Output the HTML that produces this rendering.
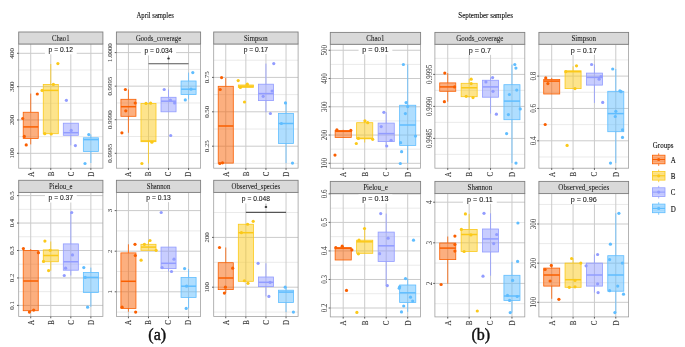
<!DOCTYPE html>
<html><head><meta charset="utf-8"><style>
html,body{margin:0;padding:0;background:#fff;}
body{width:685px;height:347px;overflow:hidden;font-family:"Liberation Serif",serif;}
svg{display:block;will-change:transform;filter:blur(0.3px);}
</style></head><body>
<svg width="685" height="347" viewBox="0 0 685 347">
<rect width="685" height="347" fill="#fff"/>
<rect x="18.7" y="44" width="84.2" height="124.2" fill="#fff"/>
<line x1="18.7" x2="102.9" y1="136.63" y2="136.63" stroke="#E8E8E8" stroke-width="0.9"/>
<line x1="18.7" x2="102.9" y1="103.3" y2="103.3" stroke="#E8E8E8" stroke-width="0.9"/>
<line x1="18.7" x2="102.9" y1="69.97" y2="69.97" stroke="#E8E8E8" stroke-width="0.9"/>
<line x1="18.7" x2="102.9" y1="153.3" y2="153.3" stroke="#CBCBCB" stroke-width="1"/>
<line x1="18.7" x2="102.9" y1="119.97" y2="119.97" stroke="#CBCBCB" stroke-width="1"/>
<line x1="18.7" x2="102.9" y1="86.63" y2="86.63" stroke="#CBCBCB" stroke-width="1"/>
<line x1="18.7" x2="102.9" y1="53.3" y2="53.3" stroke="#CBCBCB" stroke-width="1"/>
<line x1="30.73" x2="30.73" y1="44" y2="168.2" stroke="#CBCBCB" stroke-width="1"/>
<line x1="50.78" x2="50.78" y1="44" y2="168.2" stroke="#CBCBCB" stroke-width="1"/>
<line x1="70.82" x2="70.82" y1="44" y2="168.2" stroke="#CBCBCB" stroke-width="1"/>
<line x1="90.87" x2="90.87" y1="44" y2="168.2" stroke="#CBCBCB" stroke-width="1"/>
<line x1="30.73" x2="30.73" y1="93.6" y2="112.25" stroke="#FA5F00" stroke-width="0.8"/>
<line x1="30.73" x2="30.73" y1="138.5" y2="144.4" stroke="#FA5F00" stroke-width="0.8"/>
<rect x="23.21" y="112.25" width="15.04" height="26.25" fill="#FA5F00" fill-opacity="0.5" stroke="#FA5F00" stroke-width="0.8"/>
<line x1="23.21" x2="38.25" y1="126.9" y2="126.9" stroke="#FA5F00" stroke-width="1.5"/>
<circle cx="37.3" cy="94" r="1.6" fill="#FA5F00"/>
<circle cx="22.7" cy="118.5" r="1.6" fill="#FA5F00"/>
<circle cx="24.3" cy="136.4" r="1.6" fill="#FA5F00"/>
<circle cx="26.25" cy="144.9" r="1.6" fill="#FA5F00"/>
<line x1="50.78" x2="50.78" y1="64" y2="84.4" stroke="#FBC919" stroke-width="0.8"/>
<rect x="43.26" y="84.4" width="15.04" height="49.3" fill="#FBC919" fill-opacity="0.5" stroke="#FBC919" stroke-width="0.8"/>
<line x1="43.26" x2="58.29" y1="90.4" y2="90.4" stroke="#FBC919" stroke-width="1.5"/>
<circle cx="57.9" cy="63.6" r="1.6" fill="#FBC919"/>
<circle cx="53.4" cy="84.4" r="1.6" fill="#FBC919"/>
<circle cx="42.1" cy="90.4" r="1.6" fill="#FBC919"/>
<circle cx="44.8" cy="133.7" r="1.6" fill="#FBC919"/>
<circle cx="51.25" cy="134" r="1.6" fill="#FBC919"/>
<line x1="70.82" x2="70.82" y1="135.3" y2="145.3" stroke="#929CFF" stroke-width="0.8"/>
<rect x="63.31" y="123.2" width="15.04" height="12.1" fill="#929CFF" fill-opacity="0.5" stroke="#929CFF" stroke-width="0.8"/>
<line x1="63.31" x2="78.34" y1="132.7" y2="132.7" stroke="#929CFF" stroke-width="1.5"/>
<circle cx="66.4" cy="100.3" r="1.6" fill="#929CFF"/>
<circle cx="71.2" cy="130.4" r="1.6" fill="#929CFF"/>
<circle cx="75.4" cy="145.6" r="1.6" fill="#929CFF"/>
<line x1="90.87" x2="90.87" y1="134.6" y2="137.8" stroke="#5FBDFF" stroke-width="0.8"/>
<line x1="90.87" x2="90.87" y1="151.5" y2="163" stroke="#5FBDFF" stroke-width="0.8"/>
<rect x="83.35" y="137.8" width="15.04" height="13.7" fill="#5FBDFF" fill-opacity="0.5" stroke="#5FBDFF" stroke-width="0.8"/>
<line x1="83.35" x2="98.39" y1="139.6" y2="139.6" stroke="#5FBDFF" stroke-width="1.5"/>
<circle cx="88.75" cy="134.6" r="1.6" fill="#5FBDFF"/>
<circle cx="85" cy="163.5" r="1.6" fill="#5FBDFF"/>
<rect x="44.9" y="44.5" width="31.8" height="9.8" fill="#fff"/>
<text x="60.8" y="52.1" font-family='"Liberation Sans", sans-serif' font-size="6.7" text-anchor="middle" fill="#1a1a1a" stroke="#1a1a1a" stroke-width="0.1">p = 0.12</text>
<rect x="18.7" y="44" width="84.2" height="124.2" fill="none" stroke="#A0A0A0" stroke-width="0.8"/>
<rect x="18.7" y="32" width="84.2" height="12" fill="#D9D9D9" stroke="#808080" stroke-width="0.9"/>
<text transform="translate(60.8,40.6) scale(1,1.2)" font-family='"Liberation Serif", serif' font-size="6.75" text-anchor="middle" fill="#1a1a1a" stroke="#1a1a1a" stroke-width="0.06">Chao1</text>
<line x1="17" x2="18.7" y1="153.3" y2="153.3" stroke="#333" stroke-width="0.8"/>
<text transform="translate(14.3,153.3) rotate(-90) scale(1,1.0)" font-family='"Liberation Serif", serif' font-size="6.8" text-anchor="middle" fill="#404040" stroke="#404040" stroke-width="0.04">100</text>
<line x1="17" x2="18.7" y1="119.97" y2="119.97" stroke="#333" stroke-width="0.8"/>
<text transform="translate(14.3,119.97) rotate(-90) scale(1,1.0)" font-family='"Liberation Serif", serif' font-size="6.8" text-anchor="middle" fill="#404040" stroke="#404040" stroke-width="0.04">200</text>
<line x1="17" x2="18.7" y1="86.63" y2="86.63" stroke="#333" stroke-width="0.8"/>
<text transform="translate(14.3,86.63) rotate(-90) scale(1,1.0)" font-family='"Liberation Serif", serif' font-size="6.8" text-anchor="middle" fill="#404040" stroke="#404040" stroke-width="0.04">300</text>
<line x1="17" x2="18.7" y1="53.3" y2="53.3" stroke="#333" stroke-width="0.8"/>
<text transform="translate(14.3,53.3) rotate(-90) scale(1,1.0)" font-family='"Liberation Serif", serif' font-size="6.8" text-anchor="middle" fill="#404040" stroke="#404040" stroke-width="0.04">400</text>
<line x1="30.73" x2="30.73" y1="168.2" y2="169.9" stroke="#333" stroke-width="0.8"/>
<text transform="translate(33.63,171.6) rotate(-90) scale(1,1.12)" font-family='"Liberation Serif", serif' font-size="7.0" text-anchor="end" fill="#333" stroke="#333" stroke-width="0.12">A</text>
<line x1="50.78" x2="50.78" y1="168.2" y2="169.9" stroke="#333" stroke-width="0.8"/>
<text transform="translate(53.68,171.6) rotate(-90) scale(1,1.12)" font-family='"Liberation Serif", serif' font-size="7.0" text-anchor="end" fill="#333" stroke="#333" stroke-width="0.12">B</text>
<line x1="70.82" x2="70.82" y1="168.2" y2="169.9" stroke="#333" stroke-width="0.8"/>
<text transform="translate(73.72,171.6) rotate(-90) scale(1,1.12)" font-family='"Liberation Serif", serif' font-size="7.0" text-anchor="end" fill="#333" stroke="#333" stroke-width="0.12">C</text>
<line x1="90.87" x2="90.87" y1="168.2" y2="169.9" stroke="#333" stroke-width="0.8"/>
<text transform="translate(93.77,171.6) rotate(-90) scale(1,1.12)" font-family='"Liberation Serif", serif' font-size="7.0" text-anchor="end" fill="#333" stroke="#333" stroke-width="0.12">D</text>
<rect x="116.4" y="44" width="84.2" height="124.2" fill="#fff"/>
<line x1="116.4" x2="200.6" y1="136.52" y2="136.52" stroke="#E8E8E8" stroke-width="0.9"/>
<line x1="116.4" x2="200.6" y1="102.95" y2="102.95" stroke="#E8E8E8" stroke-width="0.9"/>
<line x1="116.4" x2="200.6" y1="69.38" y2="69.38" stroke="#E8E8E8" stroke-width="0.9"/>
<line x1="116.4" x2="200.6" y1="153.3" y2="153.3" stroke="#CBCBCB" stroke-width="1"/>
<line x1="116.4" x2="200.6" y1="119.73" y2="119.73" stroke="#CBCBCB" stroke-width="1"/>
<line x1="116.4" x2="200.6" y1="86.17" y2="86.17" stroke="#CBCBCB" stroke-width="1"/>
<line x1="116.4" x2="200.6" y1="52.6" y2="52.6" stroke="#CBCBCB" stroke-width="1"/>
<line x1="128.43" x2="128.43" y1="44" y2="168.2" stroke="#CBCBCB" stroke-width="1"/>
<line x1="148.48" x2="148.48" y1="44" y2="168.2" stroke="#CBCBCB" stroke-width="1"/>
<line x1="168.52" x2="168.52" y1="44" y2="168.2" stroke="#CBCBCB" stroke-width="1"/>
<line x1="188.57" x2="188.57" y1="44" y2="168.2" stroke="#CBCBCB" stroke-width="1"/>
<line x1="128.43" x2="128.43" y1="89.5" y2="99.3" stroke="#FA5F00" stroke-width="0.8"/>
<line x1="128.43" x2="128.43" y1="116.3" y2="132.8" stroke="#FA5F00" stroke-width="0.8"/>
<rect x="120.91" y="99.3" width="15.04" height="17" fill="#FA5F00" fill-opacity="0.5" stroke="#FA5F00" stroke-width="0.8"/>
<line x1="120.91" x2="135.95" y1="106.7" y2="106.7" stroke="#FA5F00" stroke-width="1.5"/>
<circle cx="125.4" cy="89.5" r="1.6" fill="#FA5F00"/>
<circle cx="135.2" cy="103" r="1.6" fill="#FA5F00"/>
<circle cx="125.8" cy="110.8" r="1.6" fill="#FA5F00"/>
<circle cx="121.9" cy="132.8" r="1.6" fill="#FA5F00"/>
<line x1="148.48" x2="148.48" y1="141.7" y2="163.5" stroke="#FBC919" stroke-width="0.8"/>
<rect x="140.96" y="103.5" width="15.04" height="38.2" fill="#FBC919" fill-opacity="0.5" stroke="#FBC919" stroke-width="0.8"/>
<line x1="140.96" x2="155.99" y1="141" y2="141" stroke="#FBC919" stroke-width="1.5"/>
<circle cx="146" cy="103.4" r="1.6" fill="#FBC919"/>
<circle cx="150.6" cy="103.2" r="1.6" fill="#FBC919"/>
<circle cx="151.9" cy="142.25" r="1.6" fill="#FBC919"/>
<circle cx="141.9" cy="163.5" r="1.6" fill="#FBC919"/>
<line x1="168.52" x2="168.52" y1="89.5" y2="97.3" stroke="#929CFF" stroke-width="0.8"/>
<rect x="161.01" y="97.3" width="15.04" height="14.5" fill="#929CFF" fill-opacity="0.5" stroke="#929CFF" stroke-width="0.8"/>
<line x1="161.01" x2="176.04" y1="101.2" y2="101.2" stroke="#929CFF" stroke-width="1.5"/>
<circle cx="164.2" cy="89.5" r="1.6" fill="#929CFF"/>
<circle cx="170.4" cy="100.2" r="1.6" fill="#929CFF"/>
<circle cx="174.6" cy="103" r="1.6" fill="#929CFF"/>
<circle cx="170.7" cy="135.5" r="1.6" fill="#929CFF"/>
<line x1="188.57" x2="188.57" y1="72.6" y2="81" stroke="#5FBDFF" stroke-width="0.8"/>
<line x1="188.57" x2="188.57" y1="94.5" y2="99.4" stroke="#5FBDFF" stroke-width="0.8"/>
<rect x="181.05" y="81" width="15.04" height="13.5" fill="#5FBDFF" fill-opacity="0.5" stroke="#5FBDFF" stroke-width="0.8"/>
<line x1="181.05" x2="196.09" y1="89.2" y2="89.2" stroke="#5FBDFF" stroke-width="1.5"/>
<circle cx="192.8" cy="72.6" r="1.6" fill="#5FBDFF"/>
<circle cx="191" cy="89.2" r="1.6" fill="#5FBDFF"/>
<circle cx="185.3" cy="99.9" r="1.6" fill="#5FBDFF"/>
<rect x="140.93" y="44.5" width="35.15" height="10.9" fill="#fff"/>
<text x="158.5" y="53.2" font-family='"Liberation Sans", sans-serif' font-size="6.7" text-anchor="middle" fill="#1a1a1a" stroke="#1a1a1a" stroke-width="0.1">p = 0.034</text>
<line x1="148.48" x2="188.57" y1="63.7" y2="63.7" stroke="#555" stroke-width="1.1"/>
<line x1="168.52" x2="168.52" y1="55.5" y2="58.5" stroke="#999" stroke-width="0.5"/>
<ellipse cx="168.52" cy="58.5" rx="1.3" ry="1.0" fill="#333"/>
<rect x="116.4" y="44" width="84.2" height="124.2" fill="none" stroke="#A0A0A0" stroke-width="0.8"/>
<rect x="116.4" y="32" width="84.2" height="12" fill="#D9D9D9" stroke="#808080" stroke-width="0.9"/>
<text transform="translate(158.5,40.6) scale(1,1.2)" font-family='"Liberation Serif", serif' font-size="6.75" text-anchor="middle" fill="#1a1a1a" stroke="#1a1a1a" stroke-width="0.06">Goods_coverage</text>
<line x1="114.7" x2="116.4" y1="153.3" y2="153.3" stroke="#333" stroke-width="0.8"/>
<text transform="translate(112,153.3) rotate(-90) scale(1,1.0)" font-family='"Liberation Serif", serif' font-size="6.8" text-anchor="middle" fill="#404040" stroke="#404040" stroke-width="0.04">0.9985</text>
<line x1="114.7" x2="116.4" y1="119.73" y2="119.73" stroke="#333" stroke-width="0.8"/>
<text transform="translate(112,119.73) rotate(-90) scale(1,1.0)" font-family='"Liberation Serif", serif' font-size="6.8" text-anchor="middle" fill="#404040" stroke="#404040" stroke-width="0.04">0.9990</text>
<line x1="114.7" x2="116.4" y1="86.17" y2="86.17" stroke="#333" stroke-width="0.8"/>
<text transform="translate(112,86.17) rotate(-90) scale(1,1.0)" font-family='"Liberation Serif", serif' font-size="6.8" text-anchor="middle" fill="#404040" stroke="#404040" stroke-width="0.04">0.9995</text>
<line x1="114.7" x2="116.4" y1="52.6" y2="52.6" stroke="#333" stroke-width="0.8"/>
<text transform="translate(112,52.6) rotate(-90) scale(1,1.0)" font-family='"Liberation Serif", serif' font-size="6.8" text-anchor="middle" fill="#404040" stroke="#404040" stroke-width="0.04">1.0000</text>
<line x1="128.43" x2="128.43" y1="168.2" y2="169.9" stroke="#333" stroke-width="0.8"/>
<text transform="translate(131.33,171.6) rotate(-90) scale(1,1.12)" font-family='"Liberation Serif", serif' font-size="7.0" text-anchor="end" fill="#333" stroke="#333" stroke-width="0.12">A</text>
<line x1="148.48" x2="148.48" y1="168.2" y2="169.9" stroke="#333" stroke-width="0.8"/>
<text transform="translate(151.38,171.6) rotate(-90) scale(1,1.12)" font-family='"Liberation Serif", serif' font-size="7.0" text-anchor="end" fill="#333" stroke="#333" stroke-width="0.12">B</text>
<line x1="168.52" x2="168.52" y1="168.2" y2="169.9" stroke="#333" stroke-width="0.8"/>
<text transform="translate(171.42,171.6) rotate(-90) scale(1,1.12)" font-family='"Liberation Serif", serif' font-size="7.0" text-anchor="end" fill="#333" stroke="#333" stroke-width="0.12">C</text>
<line x1="188.57" x2="188.57" y1="168.2" y2="169.9" stroke="#333" stroke-width="0.8"/>
<text transform="translate(191.47,171.6) rotate(-90) scale(1,1.12)" font-family='"Liberation Serif", serif' font-size="7.0" text-anchor="end" fill="#333" stroke="#333" stroke-width="0.12">D</text>
<rect x="213.7" y="44" width="84.4" height="124.2" fill="#fff"/>
<line x1="213.7" x2="298.1" y1="163.4" y2="163.4" stroke="#E8E8E8" stroke-width="0.9"/>
<line x1="213.7" x2="298.1" y1="129" y2="129" stroke="#E8E8E8" stroke-width="0.9"/>
<line x1="213.7" x2="298.1" y1="94.6" y2="94.6" stroke="#E8E8E8" stroke-width="0.9"/>
<line x1="213.7" x2="298.1" y1="60.2" y2="60.2" stroke="#E8E8E8" stroke-width="0.9"/>
<line x1="213.7" x2="298.1" y1="146.2" y2="146.2" stroke="#CBCBCB" stroke-width="1"/>
<line x1="213.7" x2="298.1" y1="111.8" y2="111.8" stroke="#CBCBCB" stroke-width="1"/>
<line x1="213.7" x2="298.1" y1="77.4" y2="77.4" stroke="#CBCBCB" stroke-width="1"/>
<line x1="225.76" x2="225.76" y1="44" y2="168.2" stroke="#CBCBCB" stroke-width="1"/>
<line x1="245.85" x2="245.85" y1="44" y2="168.2" stroke="#CBCBCB" stroke-width="1"/>
<line x1="265.95" x2="265.95" y1="44" y2="168.2" stroke="#CBCBCB" stroke-width="1"/>
<line x1="286.04" x2="286.04" y1="44" y2="168.2" stroke="#CBCBCB" stroke-width="1"/>
<line x1="225.76" x2="225.76" y1="77.9" y2="86.3" stroke="#FA5F00" stroke-width="0.8"/>
<rect x="218.22" y="86.3" width="15.07" height="76.8" fill="#FA5F00" fill-opacity="0.5" stroke="#FA5F00" stroke-width="0.8"/>
<line x1="218.22" x2="233.29" y1="126" y2="126" stroke="#FA5F00" stroke-width="1.5"/>
<circle cx="221.6" cy="77.6" r="1.6" fill="#FA5F00"/>
<circle cx="220.2" cy="89.5" r="1.6" fill="#FA5F00"/>
<circle cx="219.8" cy="163.5" r="1.6" fill="#FA5F00"/>
<circle cx="222.5" cy="162.8" r="1.6" fill="#FA5F00"/>
<rect x="238.32" y="85" width="15.07" height="2.4" fill="#FBC919" fill-opacity="0.5" stroke="#FBC919" stroke-width="0.8"/>
<line x1="238.32" x2="253.39" y1="86.2" y2="86.2" stroke="#FBC919" stroke-width="1.5"/>
<circle cx="238.2" cy="80.6" r="1.6" fill="#FBC919"/>
<circle cx="247.3" cy="84.2" r="1.6" fill="#FBC919"/>
<circle cx="240.4" cy="87.4" r="1.6" fill="#FBC919"/>
<circle cx="244.5" cy="102" r="1.6" fill="#FBC919"/>
<line x1="265.95" x2="265.95" y1="63.6" y2="84.2" stroke="#929CFF" stroke-width="0.8"/>
<line x1="265.95" x2="265.95" y1="100.6" y2="112.25" stroke="#929CFF" stroke-width="0.8"/>
<rect x="258.41" y="84.2" width="15.07" height="16.4" fill="#929CFF" fill-opacity="0.5" stroke="#929CFF" stroke-width="0.8"/>
<line x1="258.41" x2="273.48" y1="93.6" y2="93.6" stroke="#929CFF" stroke-width="1.5"/>
<circle cx="273.75" cy="63.6" r="1.6" fill="#929CFF"/>
<circle cx="272.1" cy="91" r="1.6" fill="#929CFF"/>
<circle cx="263.2" cy="96.3" r="1.6" fill="#929CFF"/>
<circle cx="270.4" cy="113.5" r="1.6" fill="#929CFF"/>
<line x1="286.04" x2="286.04" y1="102.9" y2="113.5" stroke="#5FBDFF" stroke-width="0.8"/>
<line x1="286.04" x2="286.04" y1="143.5" y2="163.1" stroke="#5FBDFF" stroke-width="0.8"/>
<rect x="278.51" y="113.5" width="15.07" height="30" fill="#5FBDFF" fill-opacity="0.5" stroke="#5FBDFF" stroke-width="0.8"/>
<line x1="278.51" x2="293.58" y1="123.5" y2="123.5" stroke="#5FBDFF" stroke-width="1.5"/>
<circle cx="285.5" cy="102.9" r="1.6" fill="#5FBDFF"/>
<circle cx="281.4" cy="123.5" r="1.6" fill="#5FBDFF"/>
<circle cx="292.5" cy="163.1" r="1.6" fill="#5FBDFF"/>
<rect x="240" y="44.5" width="31.8" height="9.5" fill="#fff"/>
<text x="255.9" y="51.8" font-family='"Liberation Sans", sans-serif' font-size="6.7" text-anchor="middle" fill="#1a1a1a" stroke="#1a1a1a" stroke-width="0.1">p = 0.17</text>
<rect x="213.7" y="44" width="84.4" height="124.2" fill="none" stroke="#A0A0A0" stroke-width="0.8"/>
<rect x="213.7" y="32" width="84.4" height="12" fill="#D9D9D9" stroke="#808080" stroke-width="0.9"/>
<text transform="translate(255.9,40.6) scale(1,1.2)" font-family='"Liberation Serif", serif' font-size="6.75" text-anchor="middle" fill="#1a1a1a" stroke="#1a1a1a" stroke-width="0.06">Simpson</text>
<line x1="212" x2="213.7" y1="146.2" y2="146.2" stroke="#333" stroke-width="0.8"/>
<text transform="translate(209.3,146.2) rotate(-90) scale(1,1.0)" font-family='"Liberation Serif", serif' font-size="6.8" text-anchor="middle" fill="#404040" stroke="#404040" stroke-width="0.04">0.25</text>
<line x1="212" x2="213.7" y1="111.8" y2="111.8" stroke="#333" stroke-width="0.8"/>
<text transform="translate(209.3,111.8) rotate(-90) scale(1,1.0)" font-family='"Liberation Serif", serif' font-size="6.8" text-anchor="middle" fill="#404040" stroke="#404040" stroke-width="0.04">0.50</text>
<line x1="212" x2="213.7" y1="77.4" y2="77.4" stroke="#333" stroke-width="0.8"/>
<text transform="translate(209.3,77.4) rotate(-90) scale(1,1.0)" font-family='"Liberation Serif", serif' font-size="6.8" text-anchor="middle" fill="#404040" stroke="#404040" stroke-width="0.04">0.75</text>
<line x1="225.76" x2="225.76" y1="168.2" y2="169.9" stroke="#333" stroke-width="0.8"/>
<text transform="translate(228.66,171.6) rotate(-90) scale(1,1.12)" font-family='"Liberation Serif", serif' font-size="7.0" text-anchor="end" fill="#333" stroke="#333" stroke-width="0.12">A</text>
<line x1="245.85" x2="245.85" y1="168.2" y2="169.9" stroke="#333" stroke-width="0.8"/>
<text transform="translate(248.75,171.6) rotate(-90) scale(1,1.12)" font-family='"Liberation Serif", serif' font-size="7.0" text-anchor="end" fill="#333" stroke="#333" stroke-width="0.12">B</text>
<line x1="265.95" x2="265.95" y1="168.2" y2="169.9" stroke="#333" stroke-width="0.8"/>
<text transform="translate(268.85,171.6) rotate(-90) scale(1,1.12)" font-family='"Liberation Serif", serif' font-size="7.0" text-anchor="end" fill="#333" stroke="#333" stroke-width="0.12">C</text>
<line x1="286.04" x2="286.04" y1="168.2" y2="169.9" stroke="#333" stroke-width="0.8"/>
<text transform="translate(288.94,171.6) rotate(-90) scale(1,1.12)" font-family='"Liberation Serif", serif' font-size="7.0" text-anchor="end" fill="#333" stroke="#333" stroke-width="0.12">D</text>
<rect x="18.7" y="192.4" width="84.2" height="124.2" fill="#fff"/>
<line x1="18.7" x2="102.9" y1="291.67" y2="291.67" stroke="#E8E8E8" stroke-width="0.9"/>
<line x1="18.7" x2="102.9" y1="264.22" y2="264.22" stroke="#E8E8E8" stroke-width="0.9"/>
<line x1="18.7" x2="102.9" y1="236.77" y2="236.77" stroke="#E8E8E8" stroke-width="0.9"/>
<line x1="18.7" x2="102.9" y1="209.32" y2="209.32" stroke="#E8E8E8" stroke-width="0.9"/>
<line x1="18.7" x2="102.9" y1="305.4" y2="305.4" stroke="#CBCBCB" stroke-width="1"/>
<line x1="18.7" x2="102.9" y1="277.95" y2="277.95" stroke="#CBCBCB" stroke-width="1"/>
<line x1="18.7" x2="102.9" y1="250.5" y2="250.5" stroke="#CBCBCB" stroke-width="1"/>
<line x1="18.7" x2="102.9" y1="223.05" y2="223.05" stroke="#CBCBCB" stroke-width="1"/>
<line x1="18.7" x2="102.9" y1="195.6" y2="195.6" stroke="#CBCBCB" stroke-width="1"/>
<line x1="30.73" x2="30.73" y1="192.4" y2="316.6" stroke="#CBCBCB" stroke-width="1"/>
<line x1="50.78" x2="50.78" y1="192.4" y2="316.6" stroke="#CBCBCB" stroke-width="1"/>
<line x1="70.82" x2="70.82" y1="192.4" y2="316.6" stroke="#CBCBCB" stroke-width="1"/>
<line x1="90.87" x2="90.87" y1="192.4" y2="316.6" stroke="#CBCBCB" stroke-width="1"/>
<line x1="30.73" x2="30.73" y1="249" y2="250.5" stroke="#FA5F00" stroke-width="0.8"/>
<line x1="30.73" x2="30.73" y1="310.7" y2="312" stroke="#FA5F00" stroke-width="0.8"/>
<rect x="23.21" y="250.5" width="15.04" height="60.2" fill="#FA5F00" fill-opacity="0.5" stroke="#FA5F00" stroke-width="0.8"/>
<line x1="23.21" x2="38.25" y1="281" y2="281" stroke="#FA5F00" stroke-width="1.5"/>
<circle cx="23.4" cy="248.6" r="1.6" fill="#FA5F00"/>
<circle cx="38.4" cy="252.7" r="1.6" fill="#FA5F00"/>
<circle cx="29.4" cy="312.1" r="1.6" fill="#FA5F00"/>
<circle cx="33.7" cy="310.1" r="1.6" fill="#FA5F00"/>
<line x1="50.78" x2="50.78" y1="241.5" y2="249.9" stroke="#FBC919" stroke-width="0.8"/>
<line x1="50.78" x2="50.78" y1="261.75" y2="270.6" stroke="#FBC919" stroke-width="0.8"/>
<rect x="43.26" y="249.9" width="15.04" height="11.85" fill="#FBC919" fill-opacity="0.5" stroke="#FBC919" stroke-width="0.8"/>
<line x1="43.26" x2="58.29" y1="255.5" y2="255.5" stroke="#FBC919" stroke-width="1.5"/>
<circle cx="44.9" cy="241.1" r="1.6" fill="#FBC919"/>
<circle cx="50.2" cy="250.3" r="1.6" fill="#FBC919"/>
<circle cx="43.5" cy="261.4" r="1.6" fill="#FBC919"/>
<circle cx="48.6" cy="270.6" r="1.6" fill="#FBC919"/>
<line x1="70.82" x2="70.82" y1="212.5" y2="243.9" stroke="#929CFF" stroke-width="0.8"/>
<line x1="70.82" x2="70.82" y1="270.2" y2="275.5" stroke="#929CFF" stroke-width="0.8"/>
<rect x="63.31" y="243.9" width="15.04" height="26.3" fill="#929CFF" fill-opacity="0.5" stroke="#929CFF" stroke-width="0.8"/>
<line x1="63.31" x2="78.34" y1="261.75" y2="261.75" stroke="#929CFF" stroke-width="1.5"/>
<circle cx="71.7" cy="212.5" r="1.6" fill="#929CFF"/>
<circle cx="72.5" cy="254.9" r="1.6" fill="#929CFF"/>
<circle cx="65.6" cy="268.2" r="1.6" fill="#929CFF"/>
<circle cx="64.25" cy="275.5" r="1.6" fill="#929CFF"/>
<line x1="90.87" x2="90.87" y1="267.6" y2="272.5" stroke="#5FBDFF" stroke-width="0.8"/>
<line x1="90.87" x2="90.87" y1="292.5" y2="306.8" stroke="#5FBDFF" stroke-width="0.8"/>
<rect x="83.35" y="272.5" width="15.04" height="20" fill="#5FBDFF" fill-opacity="0.5" stroke="#5FBDFF" stroke-width="0.8"/>
<line x1="83.35" x2="98.39" y1="277.4" y2="277.4" stroke="#5FBDFF" stroke-width="1.5"/>
<circle cx="83.8" cy="267.6" r="1.6" fill="#5FBDFF"/>
<circle cx="85.2" cy="277.4" r="1.6" fill="#5FBDFF"/>
<circle cx="87.6" cy="307.2" r="1.6" fill="#5FBDFF"/>
<rect x="44.9" y="192.9" width="31.8" height="9.6" fill="#fff"/>
<text x="60.8" y="200.3" font-family='"Liberation Sans", sans-serif' font-size="6.7" text-anchor="middle" fill="#1a1a1a" stroke="#1a1a1a" stroke-width="0.1">p = 0.37</text>
<rect x="18.7" y="192.4" width="84.2" height="124.2" fill="none" stroke="#A0A0A0" stroke-width="0.8"/>
<rect x="18.7" y="180.3" width="84.2" height="12.1" fill="#D9D9D9" stroke="#808080" stroke-width="0.9"/>
<text transform="translate(60.8,188.95) scale(1,1.2)" font-family='"Liberation Serif", serif' font-size="6.75" text-anchor="middle" fill="#1a1a1a" stroke="#1a1a1a" stroke-width="0.06">Pielou_e</text>
<line x1="17" x2="18.7" y1="305.4" y2="305.4" stroke="#333" stroke-width="0.8"/>
<text transform="translate(14.3,305.4) rotate(-90) scale(1,1.0)" font-family='"Liberation Serif", serif' font-size="6.8" text-anchor="middle" fill="#404040" stroke="#404040" stroke-width="0.04">0.1</text>
<line x1="17" x2="18.7" y1="277.95" y2="277.95" stroke="#333" stroke-width="0.8"/>
<text transform="translate(14.3,277.95) rotate(-90) scale(1,1.0)" font-family='"Liberation Serif", serif' font-size="6.8" text-anchor="middle" fill="#404040" stroke="#404040" stroke-width="0.04">0.2</text>
<line x1="17" x2="18.7" y1="250.5" y2="250.5" stroke="#333" stroke-width="0.8"/>
<text transform="translate(14.3,250.5) rotate(-90) scale(1,1.0)" font-family='"Liberation Serif", serif' font-size="6.8" text-anchor="middle" fill="#404040" stroke="#404040" stroke-width="0.04">0.3</text>
<line x1="17" x2="18.7" y1="223.05" y2="223.05" stroke="#333" stroke-width="0.8"/>
<text transform="translate(14.3,223.05) rotate(-90) scale(1,1.0)" font-family='"Liberation Serif", serif' font-size="6.8" text-anchor="middle" fill="#404040" stroke="#404040" stroke-width="0.04">0.4</text>
<line x1="17" x2="18.7" y1="195.6" y2="195.6" stroke="#333" stroke-width="0.8"/>
<text transform="translate(14.3,195.6) rotate(-90) scale(1,1.0)" font-family='"Liberation Serif", serif' font-size="6.8" text-anchor="middle" fill="#404040" stroke="#404040" stroke-width="0.04">0.5</text>
<line x1="30.73" x2="30.73" y1="316.6" y2="318.3" stroke="#333" stroke-width="0.8"/>
<text transform="translate(33.63,320) rotate(-90) scale(1,1.12)" font-family='"Liberation Serif", serif' font-size="7.0" text-anchor="end" fill="#333" stroke="#333" stroke-width="0.12">A</text>
<line x1="50.78" x2="50.78" y1="316.6" y2="318.3" stroke="#333" stroke-width="0.8"/>
<text transform="translate(53.68,320) rotate(-90) scale(1,1.12)" font-family='"Liberation Serif", serif' font-size="7.0" text-anchor="end" fill="#333" stroke="#333" stroke-width="0.12">B</text>
<line x1="70.82" x2="70.82" y1="316.6" y2="318.3" stroke="#333" stroke-width="0.8"/>
<text transform="translate(73.72,320) rotate(-90) scale(1,1.12)" font-family='"Liberation Serif", serif' font-size="7.0" text-anchor="end" fill="#333" stroke="#333" stroke-width="0.12">C</text>
<line x1="90.87" x2="90.87" y1="316.6" y2="318.3" stroke="#333" stroke-width="0.8"/>
<text transform="translate(93.77,320) rotate(-90) scale(1,1.12)" font-family='"Liberation Serif", serif' font-size="7.0" text-anchor="end" fill="#333" stroke="#333" stroke-width="0.12">D</text>
<rect x="116.4" y="192.4" width="84.2" height="124.2" fill="#fff"/>
<line x1="116.4" x2="200.6" y1="312.1" y2="312.1" stroke="#E8E8E8" stroke-width="0.9"/>
<line x1="116.4" x2="200.6" y1="271.5" y2="271.5" stroke="#E8E8E8" stroke-width="0.9"/>
<line x1="116.4" x2="200.6" y1="230.9" y2="230.9" stroke="#E8E8E8" stroke-width="0.9"/>
<line x1="116.4" x2="200.6" y1="291.8" y2="291.8" stroke="#CBCBCB" stroke-width="1"/>
<line x1="116.4" x2="200.6" y1="251.2" y2="251.2" stroke="#CBCBCB" stroke-width="1"/>
<line x1="116.4" x2="200.6" y1="210.6" y2="210.6" stroke="#CBCBCB" stroke-width="1"/>
<line x1="128.43" x2="128.43" y1="192.4" y2="316.6" stroke="#CBCBCB" stroke-width="1"/>
<line x1="148.48" x2="148.48" y1="192.4" y2="316.6" stroke="#CBCBCB" stroke-width="1"/>
<line x1="168.52" x2="168.52" y1="192.4" y2="316.6" stroke="#CBCBCB" stroke-width="1"/>
<line x1="188.57" x2="188.57" y1="192.4" y2="316.6" stroke="#CBCBCB" stroke-width="1"/>
<line x1="128.43" x2="128.43" y1="244.3" y2="252.9" stroke="#FA5F00" stroke-width="0.8"/>
<line x1="128.43" x2="128.43" y1="308.4" y2="311.7" stroke="#FA5F00" stroke-width="0.8"/>
<rect x="120.91" y="252.9" width="15.04" height="55.5" fill="#FA5F00" fill-opacity="0.5" stroke="#FA5F00" stroke-width="0.8"/>
<line x1="120.91" x2="135.95" y1="281.3" y2="281.3" stroke="#FA5F00" stroke-width="1.5"/>
<circle cx="135" cy="244.3" r="1.6" fill="#FA5F00"/>
<circle cx="135.3" cy="255.5" r="1.6" fill="#FA5F00"/>
<circle cx="122.1" cy="307.2" r="1.6" fill="#FA5F00"/>
<circle cx="135.65" cy="312.1" r="1.6" fill="#FA5F00"/>
<line x1="148.48" x2="148.48" y1="240.5" y2="244.3" stroke="#FBC919" stroke-width="0.8"/>
<rect x="140.96" y="244.3" width="15.04" height="6" fill="#FBC919" fill-opacity="0.5" stroke="#FBC919" stroke-width="0.8"/>
<line x1="140.96" x2="155.99" y1="247.1" y2="247.1" stroke="#FBC919" stroke-width="1.5"/>
<circle cx="150" cy="240.5" r="1.6" fill="#FBC919"/>
<circle cx="144.4" cy="244.3" r="1.6" fill="#FBC919"/>
<circle cx="156.1" cy="250.3" r="1.6" fill="#FBC919"/>
<circle cx="141.1" cy="260.2" r="1.6" fill="#FBC919"/>
<line x1="168.52" x2="168.52" y1="268.6" y2="271.5" stroke="#929CFF" stroke-width="0.8"/>
<rect x="161.01" y="247.1" width="15.04" height="21.5" fill="#929CFF" fill-opacity="0.5" stroke="#929CFF" stroke-width="0.8"/>
<line x1="161.01" x2="176.04" y1="263.3" y2="263.3" stroke="#929CFF" stroke-width="1.5"/>
<circle cx="161.2" cy="212.5" r="1.6" fill="#929CFF"/>
<circle cx="174" cy="259.2" r="1.6" fill="#929CFF"/>
<circle cx="162.1" cy="267.6" r="1.6" fill="#929CFF"/>
<circle cx="171.5" cy="271.5" r="1.6" fill="#929CFF"/>
<line x1="188.57" x2="188.57" y1="269" y2="277.4" stroke="#5FBDFF" stroke-width="0.8"/>
<line x1="188.57" x2="188.57" y1="297.4" y2="308.2" stroke="#5FBDFF" stroke-width="0.8"/>
<rect x="181.05" y="277.4" width="15.04" height="20" fill="#5FBDFF" fill-opacity="0.5" stroke="#5FBDFF" stroke-width="0.8"/>
<line x1="181.05" x2="196.09" y1="286.2" y2="286.2" stroke="#5FBDFF" stroke-width="1.5"/>
<circle cx="184.6" cy="268.6" r="1.6" fill="#5FBDFF"/>
<circle cx="186.6" cy="286.2" r="1.6" fill="#5FBDFF"/>
<circle cx="186.2" cy="308.4" r="1.6" fill="#5FBDFF"/>
<rect x="142.6" y="192.9" width="31.8" height="9.2" fill="#fff"/>
<text x="158.5" y="199.9" font-family='"Liberation Sans", sans-serif' font-size="6.7" text-anchor="middle" fill="#1a1a1a" stroke="#1a1a1a" stroke-width="0.1">p = 0.13</text>
<rect x="116.4" y="192.4" width="84.2" height="124.2" fill="none" stroke="#A0A0A0" stroke-width="0.8"/>
<rect x="116.4" y="180.3" width="84.2" height="12.1" fill="#D9D9D9" stroke="#808080" stroke-width="0.9"/>
<text transform="translate(158.5,188.95) scale(1,1.2)" font-family='"Liberation Serif", serif' font-size="6.75" text-anchor="middle" fill="#1a1a1a" stroke="#1a1a1a" stroke-width="0.06">Shannon</text>
<line x1="114.7" x2="116.4" y1="291.8" y2="291.8" stroke="#333" stroke-width="0.8"/>
<text transform="translate(112,291.8) rotate(-90) scale(1,1.0)" font-family='"Liberation Serif", serif' font-size="6.8" text-anchor="middle" fill="#404040" stroke="#404040" stroke-width="0.04">1</text>
<line x1="114.7" x2="116.4" y1="251.2" y2="251.2" stroke="#333" stroke-width="0.8"/>
<text transform="translate(112,251.2) rotate(-90) scale(1,1.0)" font-family='"Liberation Serif", serif' font-size="6.8" text-anchor="middle" fill="#404040" stroke="#404040" stroke-width="0.04">2</text>
<line x1="114.7" x2="116.4" y1="210.6" y2="210.6" stroke="#333" stroke-width="0.8"/>
<text transform="translate(112,210.6) rotate(-90) scale(1,1.0)" font-family='"Liberation Serif", serif' font-size="6.8" text-anchor="middle" fill="#404040" stroke="#404040" stroke-width="0.04">3</text>
<line x1="128.43" x2="128.43" y1="316.6" y2="318.3" stroke="#333" stroke-width="0.8"/>
<text transform="translate(131.33,320) rotate(-90) scale(1,1.12)" font-family='"Liberation Serif", serif' font-size="7.0" text-anchor="end" fill="#333" stroke="#333" stroke-width="0.12">A</text>
<line x1="148.48" x2="148.48" y1="316.6" y2="318.3" stroke="#333" stroke-width="0.8"/>
<text transform="translate(151.38,320) rotate(-90) scale(1,1.12)" font-family='"Liberation Serif", serif' font-size="7.0" text-anchor="end" fill="#333" stroke="#333" stroke-width="0.12">B</text>
<line x1="168.52" x2="168.52" y1="316.6" y2="318.3" stroke="#333" stroke-width="0.8"/>
<text transform="translate(171.42,320) rotate(-90) scale(1,1.12)" font-family='"Liberation Serif", serif' font-size="7.0" text-anchor="end" fill="#333" stroke="#333" stroke-width="0.12">C</text>
<line x1="188.57" x2="188.57" y1="316.6" y2="318.3" stroke="#333" stroke-width="0.8"/>
<text transform="translate(191.47,320) rotate(-90) scale(1,1.12)" font-family='"Liberation Serif", serif' font-size="7.0" text-anchor="end" fill="#333" stroke="#333" stroke-width="0.12">D</text>
<rect x="213.7" y="192.4" width="84.4" height="124.2" fill="#fff"/>
<line x1="213.7" x2="298.1" y1="312.1" y2="312.1" stroke="#E8E8E8" stroke-width="0.9"/>
<line x1="213.7" x2="298.1" y1="262.3" y2="262.3" stroke="#E8E8E8" stroke-width="0.9"/>
<line x1="213.7" x2="298.1" y1="212.5" y2="212.5" stroke="#E8E8E8" stroke-width="0.9"/>
<line x1="213.7" x2="298.1" y1="287.2" y2="287.2" stroke="#CBCBCB" stroke-width="1"/>
<line x1="213.7" x2="298.1" y1="237.4" y2="237.4" stroke="#CBCBCB" stroke-width="1"/>
<line x1="225.76" x2="225.76" y1="192.4" y2="316.6" stroke="#CBCBCB" stroke-width="1"/>
<line x1="245.85" x2="245.85" y1="192.4" y2="316.6" stroke="#CBCBCB" stroke-width="1"/>
<line x1="265.95" x2="265.95" y1="192.4" y2="316.6" stroke="#CBCBCB" stroke-width="1"/>
<line x1="286.04" x2="286.04" y1="192.4" y2="316.6" stroke="#CBCBCB" stroke-width="1"/>
<line x1="225.76" x2="225.76" y1="247.5" y2="262.7" stroke="#FA5F00" stroke-width="0.8"/>
<line x1="225.76" x2="225.76" y1="289.6" y2="293.1" stroke="#FA5F00" stroke-width="0.8"/>
<rect x="218.22" y="262.7" width="15.07" height="26.9" fill="#FA5F00" fill-opacity="0.5" stroke="#FA5F00" stroke-width="0.8"/>
<line x1="218.22" x2="233.29" y1="278" y2="278" stroke="#FA5F00" stroke-width="1.5"/>
<circle cx="219.5" cy="247.5" r="1.6" fill="#FA5F00"/>
<circle cx="232.7" cy="268.2" r="1.6" fill="#FA5F00"/>
<circle cx="225.4" cy="287.2" r="1.6" fill="#FA5F00"/>
<circle cx="224.4" cy="293.1" r="1.6" fill="#FA5F00"/>
<rect x="238.32" y="224.25" width="15.07" height="57.05" fill="#FBC919" fill-opacity="0.5" stroke="#FBC919" stroke-width="0.8"/>
<line x1="238.32" x2="253.39" y1="232.7" y2="232.7" stroke="#FBC919" stroke-width="1.5"/>
<circle cx="253.2" cy="221.3" r="1.6" fill="#FBC919"/>
<circle cx="247.6" cy="224.25" r="1.6" fill="#FBC919"/>
<circle cx="241.4" cy="232.7" r="1.6" fill="#FBC919"/>
<circle cx="244.4" cy="280.75" r="1.6" fill="#FBC919"/>
<circle cx="248" cy="283.3" r="1.6" fill="#FBC919"/>
<line x1="265.95" x2="265.95" y1="263.3" y2="277" stroke="#929CFF" stroke-width="0.8"/>
<line x1="265.95" x2="265.95" y1="286.6" y2="296.4" stroke="#929CFF" stroke-width="0.8"/>
<rect x="258.41" y="277" width="15.07" height="9.6" fill="#929CFF" fill-opacity="0.5" stroke="#929CFF" stroke-width="0.8"/>
<line x1="258.41" x2="273.48" y1="282.3" y2="282.3" stroke="#929CFF" stroke-width="1.5"/>
<circle cx="258.1" cy="263.3" r="1.6" fill="#929CFF"/>
<circle cx="270.1" cy="282.3" r="1.6" fill="#929CFF"/>
<circle cx="268.9" cy="296.4" r="1.6" fill="#929CFF"/>
<line x1="286.04" x2="286.04" y1="287.2" y2="290.2" stroke="#5FBDFF" stroke-width="0.8"/>
<line x1="286.04" x2="286.04" y1="302.5" y2="312.1" stroke="#5FBDFF" stroke-width="0.8"/>
<rect x="278.51" y="290.2" width="15.07" height="12.3" fill="#5FBDFF" fill-opacity="0.5" stroke="#5FBDFF" stroke-width="0.8"/>
<line x1="278.51" x2="293.58" y1="292.1" y2="292.1" stroke="#5FBDFF" stroke-width="1.5"/>
<circle cx="285.2" cy="287.2" r="1.6" fill="#5FBDFF"/>
<circle cx="293.4" cy="312.1" r="1.6" fill="#5FBDFF"/>
<rect x="238.32" y="192.9" width="35.15" height="10.5" fill="#fff"/>
<text x="255.9" y="201.2" font-family='"Liberation Sans", sans-serif' font-size="6.7" text-anchor="middle" fill="#1a1a1a" stroke="#1a1a1a" stroke-width="0.1">p = 0.048</text>
<line x1="245.85" x2="286.04" y1="212.4" y2="212.4" stroke="#555" stroke-width="1.1"/>
<line x1="265.95" x2="265.95" y1="203.9" y2="206.9" stroke="#999" stroke-width="0.5"/>
<ellipse cx="265.95" cy="206.9" rx="1.3" ry="1.0" fill="#333"/>
<rect x="213.7" y="192.4" width="84.4" height="124.2" fill="none" stroke="#A0A0A0" stroke-width="0.8"/>
<rect x="213.7" y="180.3" width="84.4" height="12.1" fill="#D9D9D9" stroke="#808080" stroke-width="0.9"/>
<text transform="translate(255.9,188.95) scale(1,1.2)" font-family='"Liberation Serif", serif' font-size="6.75" text-anchor="middle" fill="#1a1a1a" stroke="#1a1a1a" stroke-width="0.06">Observed_species</text>
<line x1="212" x2="213.7" y1="287.2" y2="287.2" stroke="#333" stroke-width="0.8"/>
<text transform="translate(209.3,287.2) rotate(-90) scale(1,1.0)" font-family='"Liberation Serif", serif' font-size="6.8" text-anchor="middle" fill="#404040" stroke="#404040" stroke-width="0.04">100</text>
<line x1="212" x2="213.7" y1="237.4" y2="237.4" stroke="#333" stroke-width="0.8"/>
<text transform="translate(209.3,237.4) rotate(-90) scale(1,1.0)" font-family='"Liberation Serif", serif' font-size="6.8" text-anchor="middle" fill="#404040" stroke="#404040" stroke-width="0.04">200</text>
<line x1="225.76" x2="225.76" y1="316.6" y2="318.3" stroke="#333" stroke-width="0.8"/>
<text transform="translate(228.66,320) rotate(-90) scale(1,1.12)" font-family='"Liberation Serif", serif' font-size="7.0" text-anchor="end" fill="#333" stroke="#333" stroke-width="0.12">A</text>
<line x1="245.85" x2="245.85" y1="316.6" y2="318.3" stroke="#333" stroke-width="0.8"/>
<text transform="translate(248.75,320) rotate(-90) scale(1,1.12)" font-family='"Liberation Serif", serif' font-size="7.0" text-anchor="end" fill="#333" stroke="#333" stroke-width="0.12">B</text>
<line x1="265.95" x2="265.95" y1="316.6" y2="318.3" stroke="#333" stroke-width="0.8"/>
<text transform="translate(268.85,320) rotate(-90) scale(1,1.12)" font-family='"Liberation Serif", serif' font-size="7.0" text-anchor="end" fill="#333" stroke="#333" stroke-width="0.12">C</text>
<line x1="286.04" x2="286.04" y1="316.6" y2="318.3" stroke="#333" stroke-width="0.8"/>
<text transform="translate(288.94,320) rotate(-90) scale(1,1.12)" font-family='"Liberation Serif", serif' font-size="7.0" text-anchor="end" fill="#333" stroke="#333" stroke-width="0.12">D</text>
<rect x="330.3" y="44.3" width="90.3" height="123.9" fill="#fff"/>
<line x1="330.3" x2="420.6" y1="149.17" y2="149.17" stroke="#E8E8E8" stroke-width="0.9"/>
<line x1="330.3" x2="420.6" y1="120.91" y2="120.91" stroke="#E8E8E8" stroke-width="0.9"/>
<line x1="330.3" x2="420.6" y1="92.64" y2="92.64" stroke="#E8E8E8" stroke-width="0.9"/>
<line x1="330.3" x2="420.6" y1="64.38" y2="64.38" stroke="#E8E8E8" stroke-width="0.9"/>
<line x1="330.3" x2="420.6" y1="163.3" y2="163.3" stroke="#CBCBCB" stroke-width="1"/>
<line x1="330.3" x2="420.6" y1="135.04" y2="135.04" stroke="#CBCBCB" stroke-width="1"/>
<line x1="330.3" x2="420.6" y1="106.78" y2="106.78" stroke="#CBCBCB" stroke-width="1"/>
<line x1="330.3" x2="420.6" y1="78.51" y2="78.51" stroke="#CBCBCB" stroke-width="1"/>
<line x1="330.3" x2="420.6" y1="50.25" y2="50.25" stroke="#CBCBCB" stroke-width="1"/>
<line x1="343.2" x2="343.2" y1="44.3" y2="168.2" stroke="#CBCBCB" stroke-width="1"/>
<line x1="364.7" x2="364.7" y1="44.3" y2="168.2" stroke="#CBCBCB" stroke-width="1"/>
<line x1="386.2" x2="386.2" y1="44.3" y2="168.2" stroke="#CBCBCB" stroke-width="1"/>
<line x1="407.7" x2="407.7" y1="44.3" y2="168.2" stroke="#CBCBCB" stroke-width="1"/>
<line x1="343.2" x2="343.2" y1="129.8" y2="130.4" stroke="#FA5F00" stroke-width="0.8"/>
<rect x="335.14" y="130.4" width="16.13" height="7" fill="#FA5F00" fill-opacity="0.5" stroke="#FA5F00" stroke-width="0.8"/>
<line x1="335.14" x2="351.26" y1="131.3" y2="131.3" stroke="#FA5F00" stroke-width="1.5"/>
<circle cx="336.9" cy="129.8" r="1.6" fill="#FA5F00"/>
<circle cx="350.8" cy="130.4" r="1.6" fill="#FA5F00"/>
<circle cx="335" cy="155.1" r="1.6" fill="#FA5F00"/>
<line x1="364.7" x2="364.7" y1="120.3" y2="122.7" stroke="#FBC919" stroke-width="0.8"/>
<line x1="364.7" x2="364.7" y1="138.7" y2="142.5" stroke="#FBC919" stroke-width="0.8"/>
<rect x="356.64" y="122.7" width="16.13" height="16" fill="#FBC919" fill-opacity="0.5" stroke="#FBC919" stroke-width="0.8"/>
<line x1="356.64" x2="372.76" y1="138.4" y2="138.4" stroke="#FBC919" stroke-width="1.5"/>
<circle cx="364.9" cy="120.8" r="1.6" fill="#FBC919"/>
<circle cx="367.7" cy="122.7" r="1.6" fill="#FBC919"/>
<circle cx="358.4" cy="138.4" r="1.6" fill="#FBC919"/>
<circle cx="372.7" cy="139.3" r="1.6" fill="#FBC919"/>
<circle cx="356.3" cy="143.5" r="1.6" fill="#FBC919"/>
<line x1="386.2" x2="386.2" y1="112.3" y2="123.1" stroke="#929CFF" stroke-width="0.8"/>
<line x1="386.2" x2="386.2" y1="141.6" y2="146" stroke="#929CFF" stroke-width="0.8"/>
<rect x="378.14" y="123.1" width="16.13" height="18.5" fill="#929CFF" fill-opacity="0.5" stroke="#929CFF" stroke-width="0.8"/>
<line x1="378.14" x2="394.26" y1="133.6" y2="133.6" stroke="#929CFF" stroke-width="1.5"/>
<circle cx="383.9" cy="112.3" r="1.6" fill="#929CFF"/>
<circle cx="381.2" cy="126.6" r="1.6" fill="#929CFF"/>
<circle cx="391.1" cy="140.3" r="1.6" fill="#929CFF"/>
<circle cx="386.7" cy="146" r="1.6" fill="#929CFF"/>
<line x1="407.7" x2="407.7" y1="64.5" y2="105.25" stroke="#5FBDFF" stroke-width="0.8"/>
<line x1="407.7" x2="407.7" y1="145.4" y2="163.1" stroke="#5FBDFF" stroke-width="0.8"/>
<rect x="399.64" y="105.25" width="16.13" height="40.15" fill="#5FBDFF" fill-opacity="0.5" stroke="#5FBDFF" stroke-width="0.8"/>
<line x1="399.64" x2="415.76" y1="125" y2="125" stroke="#5FBDFF" stroke-width="1.5"/>
<circle cx="403.4" cy="64.5" r="1.6" fill="#5FBDFF"/>
<circle cx="406.1" cy="102.6" r="1.6" fill="#5FBDFF"/>
<circle cx="407.7" cy="106.6" r="1.6" fill="#5FBDFF"/>
<circle cx="405.4" cy="113.6" r="1.6" fill="#5FBDFF"/>
<circle cx="415.5" cy="136.1" r="1.6" fill="#5FBDFF"/>
<circle cx="400.6" cy="142.7" r="1.6" fill="#5FBDFF"/>
<circle cx="401.6" cy="151.7" r="1.6" fill="#5FBDFF"/>
<circle cx="400.3" cy="163.5" r="1.6" fill="#5FBDFF"/>
<rect x="358.55" y="44.8" width="33.8" height="9.7" fill="#fff"/>
<text x="375.45" y="52.3" font-family='"Liberation Sans", sans-serif' font-size="7.2" text-anchor="middle" fill="#1a1a1a" stroke="#1a1a1a" stroke-width="0.1">p = 0.91</text>
<rect x="330.3" y="44.3" width="90.3" height="123.9" fill="none" stroke="#A0A0A0" stroke-width="0.8"/>
<rect x="330.3" y="32.4" width="90.3" height="11.9" fill="#D9D9D9" stroke="#808080" stroke-width="0.9"/>
<text transform="translate(375.45,40.95) scale(1,1.2)" font-family='"Liberation Serif", serif' font-size="7.05" text-anchor="middle" fill="#1a1a1a" stroke="#1a1a1a" stroke-width="0.06">Chao1</text>
<line x1="328.6" x2="330.3" y1="163.3" y2="163.3" stroke="#333" stroke-width="0.8"/>
<text transform="translate(327.1,163.3) rotate(-90) scale(1,1.15)" font-family='"Liberation Serif", serif' font-size="7.0" text-anchor="middle" fill="#404040" stroke="#404040" stroke-width="0.03">100</text>
<line x1="328.6" x2="330.3" y1="135.04" y2="135.04" stroke="#333" stroke-width="0.8"/>
<text transform="translate(327.1,135.04) rotate(-90) scale(1,1.15)" font-family='"Liberation Serif", serif' font-size="7.0" text-anchor="middle" fill="#404040" stroke="#404040" stroke-width="0.03">200</text>
<line x1="328.6" x2="330.3" y1="106.78" y2="106.78" stroke="#333" stroke-width="0.8"/>
<text transform="translate(327.1,106.78) rotate(-90) scale(1,1.15)" font-family='"Liberation Serif", serif' font-size="7.0" text-anchor="middle" fill="#404040" stroke="#404040" stroke-width="0.03">300</text>
<line x1="328.6" x2="330.3" y1="78.51" y2="78.51" stroke="#333" stroke-width="0.8"/>
<text transform="translate(327.1,78.51) rotate(-90) scale(1,1.15)" font-family='"Liberation Serif", serif' font-size="7.0" text-anchor="middle" fill="#404040" stroke="#404040" stroke-width="0.03">400</text>
<line x1="328.6" x2="330.3" y1="50.25" y2="50.25" stroke="#333" stroke-width="0.8"/>
<text transform="translate(327.1,50.25) rotate(-90) scale(1,1.15)" font-family='"Liberation Serif", serif' font-size="7.0" text-anchor="middle" fill="#404040" stroke="#404040" stroke-width="0.03">500</text>
<line x1="343.2" x2="343.2" y1="168.2" y2="169.9" stroke="#333" stroke-width="0.8"/>
<text transform="translate(346.1,171.8) rotate(-90) scale(1,1.05)" font-family='"Liberation Serif", serif' font-size="7.1" text-anchor="end" fill="#333" stroke="#333" stroke-width="0.12">A</text>
<line x1="364.7" x2="364.7" y1="168.2" y2="169.9" stroke="#333" stroke-width="0.8"/>
<text transform="translate(367.6,171.8) rotate(-90) scale(1,1.05)" font-family='"Liberation Serif", serif' font-size="7.1" text-anchor="end" fill="#333" stroke="#333" stroke-width="0.12">B</text>
<line x1="386.2" x2="386.2" y1="168.2" y2="169.9" stroke="#333" stroke-width="0.8"/>
<text transform="translate(389.1,171.8) rotate(-90) scale(1,1.05)" font-family='"Liberation Serif", serif' font-size="7.1" text-anchor="end" fill="#333" stroke="#333" stroke-width="0.12">C</text>
<line x1="407.7" x2="407.7" y1="168.2" y2="169.9" stroke="#333" stroke-width="0.8"/>
<text transform="translate(410.6,171.8) rotate(-90) scale(1,1.05)" font-family='"Liberation Serif", serif' font-size="7.1" text-anchor="end" fill="#333" stroke="#333" stroke-width="0.12">D</text>
<rect x="434.9" y="44.3" width="89.9" height="123.9" fill="#fff"/>
<line x1="434.9" x2="524.8" y1="154.4" y2="154.4" stroke="#E8E8E8" stroke-width="0.9"/>
<line x1="434.9" x2="524.8" y1="122.4" y2="122.4" stroke="#E8E8E8" stroke-width="0.9"/>
<line x1="434.9" x2="524.8" y1="90.4" y2="90.4" stroke="#E8E8E8" stroke-width="0.9"/>
<line x1="434.9" x2="524.8" y1="58.4" y2="58.4" stroke="#E8E8E8" stroke-width="0.9"/>
<line x1="434.9" x2="524.8" y1="138.4" y2="138.4" stroke="#CBCBCB" stroke-width="1"/>
<line x1="434.9" x2="524.8" y1="106.4" y2="106.4" stroke="#CBCBCB" stroke-width="1"/>
<line x1="434.9" x2="524.8" y1="74.4" y2="74.4" stroke="#CBCBCB" stroke-width="1"/>
<line x1="447.74" x2="447.74" y1="44.3" y2="168.2" stroke="#CBCBCB" stroke-width="1"/>
<line x1="469.15" x2="469.15" y1="44.3" y2="168.2" stroke="#CBCBCB" stroke-width="1"/>
<line x1="490.55" x2="490.55" y1="44.3" y2="168.2" stroke="#CBCBCB" stroke-width="1"/>
<line x1="511.96" x2="511.96" y1="44.3" y2="168.2" stroke="#CBCBCB" stroke-width="1"/>
<line x1="447.74" x2="447.74" y1="73.1" y2="82.9" stroke="#FA5F00" stroke-width="0.8"/>
<line x1="447.74" x2="447.74" y1="91.3" y2="101.7" stroke="#FA5F00" stroke-width="0.8"/>
<rect x="439.72" y="82.9" width="16.05" height="8.4" fill="#FA5F00" fill-opacity="0.5" stroke="#FA5F00" stroke-width="0.8"/>
<line x1="439.72" x2="455.77" y1="86.9" y2="86.9" stroke="#FA5F00" stroke-width="1.5"/>
<circle cx="444.8" cy="73.1" r="1.6" fill="#FA5F00"/>
<circle cx="454.6" cy="86.9" r="1.6" fill="#FA5F00"/>
<circle cx="444.4" cy="101.7" r="1.6" fill="#FA5F00"/>
<line x1="469.15" x2="469.15" y1="78.8" y2="83.3" stroke="#FBC919" stroke-width="0.8"/>
<line x1="469.15" x2="469.15" y1="96.7" y2="97.6" stroke="#FBC919" stroke-width="0.8"/>
<rect x="461.12" y="83.3" width="16.05" height="13.4" fill="#FBC919" fill-opacity="0.5" stroke="#FBC919" stroke-width="0.8"/>
<line x1="461.12" x2="477.17" y1="87.75" y2="87.75" stroke="#FBC919" stroke-width="1.5"/>
<circle cx="471.2" cy="79.2" r="1.6" fill="#FBC919"/>
<circle cx="471.2" cy="83.6" r="1.6" fill="#FBC919"/>
<circle cx="466.2" cy="96.3" r="1.6" fill="#FBC919"/>
<circle cx="473" cy="97.6" r="1.6" fill="#FBC919"/>
<line x1="490.55" x2="490.55" y1="77.6" y2="80.25" stroke="#929CFF" stroke-width="0.8"/>
<line x1="490.55" x2="490.55" y1="97.2" y2="113.6" stroke="#929CFF" stroke-width="0.8"/>
<rect x="482.53" y="80.25" width="16.05" height="16.95" fill="#929CFF" fill-opacity="0.5" stroke="#929CFF" stroke-width="0.8"/>
<line x1="482.53" x2="498.58" y1="86.9" y2="86.9" stroke="#929CFF" stroke-width="1.5"/>
<circle cx="492.6" cy="77.6" r="1.6" fill="#929CFF"/>
<circle cx="485.9" cy="81.9" r="1.6" fill="#929CFF"/>
<circle cx="493" cy="91.3" r="1.6" fill="#929CFF"/>
<circle cx="496.4" cy="114.2" r="1.6" fill="#929CFF"/>
<line x1="511.96" x2="511.96" y1="64.5" y2="84.7" stroke="#5FBDFF" stroke-width="0.8"/>
<line x1="511.96" x2="511.96" y1="119.7" y2="163.1" stroke="#5FBDFF" stroke-width="0.8"/>
<rect x="503.93" y="84.7" width="16.05" height="35" fill="#5FBDFF" fill-opacity="0.5" stroke="#5FBDFF" stroke-width="0.8"/>
<line x1="503.93" x2="519.98" y1="101.1" y2="101.1" stroke="#5FBDFF" stroke-width="1.5"/>
<circle cx="514.8" cy="64.5" r="1.6" fill="#5FBDFF"/>
<circle cx="515.9" cy="68.1" r="1.6" fill="#5FBDFF"/>
<circle cx="516.75" cy="90.1" r="1.6" fill="#5FBDFF"/>
<circle cx="509.4" cy="94.5" r="1.6" fill="#5FBDFF"/>
<circle cx="520.2" cy="108.9" r="1.6" fill="#5FBDFF"/>
<circle cx="508.4" cy="114.6" r="1.6" fill="#5FBDFF"/>
<circle cx="506.6" cy="133.6" r="1.6" fill="#5FBDFF"/>
<circle cx="516" cy="163.1" r="1.6" fill="#5FBDFF"/>
<rect x="464.75" y="44.8" width="30.2" height="10.05" fill="#fff"/>
<text x="479.85" y="52.65" font-family='"Liberation Sans", sans-serif' font-size="7.2" text-anchor="middle" fill="#1a1a1a" stroke="#1a1a1a" stroke-width="0.1">p = 0.7</text>
<rect x="434.9" y="44.3" width="89.9" height="123.9" fill="none" stroke="#A0A0A0" stroke-width="0.8"/>
<rect x="434.9" y="32.4" width="89.9" height="11.9" fill="#D9D9D9" stroke="#808080" stroke-width="0.9"/>
<text transform="translate(479.85,40.95) scale(1,1.2)" font-family='"Liberation Serif", serif' font-size="7.05" text-anchor="middle" fill="#1a1a1a" stroke="#1a1a1a" stroke-width="0.06">Goods_coverage</text>
<line x1="433.2" x2="434.9" y1="138.4" y2="138.4" stroke="#333" stroke-width="0.8"/>
<text transform="translate(431.7,138.4) rotate(-90) scale(1,1.15)" font-family='"Liberation Serif", serif' font-size="7.0" text-anchor="middle" fill="#404040" stroke="#404040" stroke-width="0.03">0.9985</text>
<line x1="433.2" x2="434.9" y1="106.4" y2="106.4" stroke="#333" stroke-width="0.8"/>
<text transform="translate(431.7,106.4) rotate(-90) scale(1,1.15)" font-family='"Liberation Serif", serif' font-size="7.0" text-anchor="middle" fill="#404040" stroke="#404040" stroke-width="0.03">0.9990</text>
<line x1="433.2" x2="434.9" y1="74.4" y2="74.4" stroke="#333" stroke-width="0.8"/>
<text transform="translate(431.7,74.4) rotate(-90) scale(1,1.15)" font-family='"Liberation Serif", serif' font-size="7.0" text-anchor="middle" fill="#404040" stroke="#404040" stroke-width="0.03">0.9995</text>
<line x1="447.74" x2="447.74" y1="168.2" y2="169.9" stroke="#333" stroke-width="0.8"/>
<text transform="translate(450.64,171.8) rotate(-90) scale(1,1.05)" font-family='"Liberation Serif", serif' font-size="7.1" text-anchor="end" fill="#333" stroke="#333" stroke-width="0.12">A</text>
<line x1="469.15" x2="469.15" y1="168.2" y2="169.9" stroke="#333" stroke-width="0.8"/>
<text transform="translate(472.05,171.8) rotate(-90) scale(1,1.05)" font-family='"Liberation Serif", serif' font-size="7.1" text-anchor="end" fill="#333" stroke="#333" stroke-width="0.12">B</text>
<line x1="490.55" x2="490.55" y1="168.2" y2="169.9" stroke="#333" stroke-width="0.8"/>
<text transform="translate(493.45,171.8) rotate(-90) scale(1,1.05)" font-family='"Liberation Serif", serif' font-size="7.1" text-anchor="end" fill="#333" stroke="#333" stroke-width="0.12">C</text>
<line x1="511.96" x2="511.96" y1="168.2" y2="169.9" stroke="#333" stroke-width="0.8"/>
<text transform="translate(514.86,171.8) rotate(-90) scale(1,1.05)" font-family='"Liberation Serif", serif' font-size="7.1" text-anchor="end" fill="#333" stroke="#333" stroke-width="0.12">D</text>
<rect x="538.9" y="44.3" width="89.7" height="123.9" fill="#fff"/>
<line x1="538.9" x2="628.6" y1="156.98" y2="156.98" stroke="#E8E8E8" stroke-width="0.9"/>
<line x1="538.9" x2="628.6" y1="124.62" y2="124.62" stroke="#E8E8E8" stroke-width="0.9"/>
<line x1="538.9" x2="628.6" y1="92.28" y2="92.28" stroke="#E8E8E8" stroke-width="0.9"/>
<line x1="538.9" x2="628.6" y1="59.92" y2="59.92" stroke="#E8E8E8" stroke-width="0.9"/>
<line x1="538.9" x2="628.6" y1="140.8" y2="140.8" stroke="#CBCBCB" stroke-width="1"/>
<line x1="538.9" x2="628.6" y1="108.45" y2="108.45" stroke="#CBCBCB" stroke-width="1"/>
<line x1="538.9" x2="628.6" y1="76.1" y2="76.1" stroke="#CBCBCB" stroke-width="1"/>
<line x1="551.71" x2="551.71" y1="44.3" y2="168.2" stroke="#CBCBCB" stroke-width="1"/>
<line x1="573.07" x2="573.07" y1="44.3" y2="168.2" stroke="#CBCBCB" stroke-width="1"/>
<line x1="594.43" x2="594.43" y1="44.3" y2="168.2" stroke="#CBCBCB" stroke-width="1"/>
<line x1="615.79" x2="615.79" y1="44.3" y2="168.2" stroke="#CBCBCB" stroke-width="1"/>
<line x1="551.71" x2="551.71" y1="77.9" y2="79.4" stroke="#FA5F00" stroke-width="0.8"/>
<rect x="543.71" y="79.4" width="16.02" height="14.6" fill="#FA5F00" fill-opacity="0.5" stroke="#FA5F00" stroke-width="0.8"/>
<line x1="543.71" x2="559.72" y1="81.1" y2="81.1" stroke="#FA5F00" stroke-width="1.5"/>
<circle cx="545.75" cy="77.9" r="1.6" fill="#FA5F00"/>
<circle cx="547.9" cy="83.6" r="1.6" fill="#FA5F00"/>
<circle cx="545.2" cy="124.5" r="1.6" fill="#FA5F00"/>
<line x1="573.07" x2="573.07" y1="66.3" y2="70.8" stroke="#FBC919" stroke-width="0.8"/>
<rect x="565.06" y="70.8" width="16.02" height="17.8" fill="#FBC919" fill-opacity="0.5" stroke="#FBC919" stroke-width="0.8"/>
<line x1="565.06" x2="581.08" y1="71.7" y2="71.7" stroke="#FBC919" stroke-width="1.5"/>
<circle cx="576.5" cy="65.8" r="1.6" fill="#FBC919"/>
<circle cx="565.75" cy="71.7" r="1.6" fill="#FBC919"/>
<circle cx="575" cy="88.6" r="1.6" fill="#FBC919"/>
<circle cx="567.1" cy="145.4" r="1.6" fill="#FBC919"/>
<line x1="594.43" x2="594.43" y1="64.5" y2="73.1" stroke="#929CFF" stroke-width="0.8"/>
<line x1="594.43" x2="594.43" y1="85.1" y2="102.9" stroke="#929CFF" stroke-width="0.8"/>
<rect x="586.42" y="73.1" width="16.02" height="12" fill="#929CFF" fill-opacity="0.5" stroke="#929CFF" stroke-width="0.8"/>
<line x1="586.42" x2="602.44" y1="77.4" y2="77.4" stroke="#929CFF" stroke-width="1.5"/>
<circle cx="591.6" cy="64.5" r="1.6" fill="#929CFF"/>
<circle cx="600.9" cy="76.7" r="1.6" fill="#929CFF"/>
<circle cx="599.1" cy="79.2" r="1.6" fill="#929CFF"/>
<circle cx="602.7" cy="102.4" r="1.6" fill="#929CFF"/>
<line x1="615.79" x2="615.79" y1="69" y2="91.3" stroke="#5FBDFF" stroke-width="0.8"/>
<line x1="615.79" x2="615.79" y1="131.7" y2="163.1" stroke="#5FBDFF" stroke-width="0.8"/>
<rect x="607.78" y="91.3" width="16.02" height="40.4" fill="#5FBDFF" fill-opacity="0.5" stroke="#5FBDFF" stroke-width="0.8"/>
<line x1="607.78" x2="623.79" y1="113.6" y2="113.6" stroke="#5FBDFF" stroke-width="1.5"/>
<circle cx="612.7" cy="69" r="1.6" fill="#5FBDFF"/>
<circle cx="619.9" cy="90.8" r="1.6" fill="#5FBDFF"/>
<circle cx="621.1" cy="91.7" r="1.6" fill="#5FBDFF"/>
<circle cx="615.8" cy="111.3" r="1.6" fill="#5FBDFF"/>
<circle cx="615.25" cy="116.5" r="1.6" fill="#5FBDFF"/>
<circle cx="622.5" cy="129.8" r="1.6" fill="#5FBDFF"/>
<circle cx="622.5" cy="137.4" r="1.6" fill="#5FBDFF"/>
<circle cx="610.5" cy="163.1" r="1.6" fill="#5FBDFF"/>
<rect x="566.85" y="44.8" width="33.8" height="10.05" fill="#fff"/>
<text x="583.75" y="52.65" font-family='"Liberation Sans", sans-serif' font-size="7.2" text-anchor="middle" fill="#1a1a1a" stroke="#1a1a1a" stroke-width="0.1">p = 0.17</text>
<rect x="538.9" y="44.3" width="89.7" height="123.9" fill="none" stroke="#A0A0A0" stroke-width="0.8"/>
<rect x="538.9" y="32.4" width="89.7" height="11.9" fill="#D9D9D9" stroke="#808080" stroke-width="0.9"/>
<text transform="translate(583.75,40.95) scale(1,1.2)" font-family='"Liberation Serif", serif' font-size="7.05" text-anchor="middle" fill="#1a1a1a" stroke="#1a1a1a" stroke-width="0.06">Simpson</text>
<line x1="537.2" x2="538.9" y1="140.8" y2="140.8" stroke="#333" stroke-width="0.8"/>
<text transform="translate(535.7,140.8) rotate(-90) scale(1,1.15)" font-family='"Liberation Serif", serif' font-size="7.0" text-anchor="middle" fill="#404040" stroke="#404040" stroke-width="0.03">0.4</text>
<line x1="537.2" x2="538.9" y1="108.45" y2="108.45" stroke="#333" stroke-width="0.8"/>
<text transform="translate(535.7,108.45) rotate(-90) scale(1,1.15)" font-family='"Liberation Serif", serif' font-size="7.0" text-anchor="middle" fill="#404040" stroke="#404040" stroke-width="0.03">0.6</text>
<line x1="537.2" x2="538.9" y1="76.1" y2="76.1" stroke="#333" stroke-width="0.8"/>
<text transform="translate(535.7,76.1) rotate(-90) scale(1,1.15)" font-family='"Liberation Serif", serif' font-size="7.0" text-anchor="middle" fill="#404040" stroke="#404040" stroke-width="0.03">0.8</text>
<line x1="551.71" x2="551.71" y1="168.2" y2="169.9" stroke="#333" stroke-width="0.8"/>
<text transform="translate(554.61,171.8) rotate(-90) scale(1,1.05)" font-family='"Liberation Serif", serif' font-size="7.1" text-anchor="end" fill="#333" stroke="#333" stroke-width="0.12">A</text>
<line x1="573.07" x2="573.07" y1="168.2" y2="169.9" stroke="#333" stroke-width="0.8"/>
<text transform="translate(575.97,171.8) rotate(-90) scale(1,1.05)" font-family='"Liberation Serif", serif' font-size="7.1" text-anchor="end" fill="#333" stroke="#333" stroke-width="0.12">B</text>
<line x1="594.43" x2="594.43" y1="168.2" y2="169.9" stroke="#333" stroke-width="0.8"/>
<text transform="translate(597.33,171.8) rotate(-90) scale(1,1.05)" font-family='"Liberation Serif", serif' font-size="7.1" text-anchor="end" fill="#333" stroke="#333" stroke-width="0.12">C</text>
<line x1="615.79" x2="615.79" y1="168.2" y2="169.9" stroke="#333" stroke-width="0.8"/>
<text transform="translate(618.69,171.8) rotate(-90) scale(1,1.05)" font-family='"Liberation Serif", serif' font-size="7.1" text-anchor="end" fill="#333" stroke="#333" stroke-width="0.12">D</text>
<rect x="330.3" y="193.6" width="90.3" height="123.3" fill="#fff"/>
<line x1="330.3" x2="420.6" y1="293.73" y2="293.73" stroke="#E8E8E8" stroke-width="0.9"/>
<line x1="330.3" x2="420.6" y1="265.2" y2="265.2" stroke="#E8E8E8" stroke-width="0.9"/>
<line x1="330.3" x2="420.6" y1="236.67" y2="236.67" stroke="#E8E8E8" stroke-width="0.9"/>
<line x1="330.3" x2="420.6" y1="208.13" y2="208.13" stroke="#E8E8E8" stroke-width="0.9"/>
<line x1="330.3" x2="420.6" y1="308" y2="308" stroke="#CBCBCB" stroke-width="1"/>
<line x1="330.3" x2="420.6" y1="279.47" y2="279.47" stroke="#CBCBCB" stroke-width="1"/>
<line x1="330.3" x2="420.6" y1="250.93" y2="250.93" stroke="#CBCBCB" stroke-width="1"/>
<line x1="330.3" x2="420.6" y1="222.4" y2="222.4" stroke="#CBCBCB" stroke-width="1"/>
<line x1="330.3" x2="420.6" y1="193.87" y2="193.87" stroke="#CBCBCB" stroke-width="1"/>
<line x1="343.2" x2="343.2" y1="193.6" y2="316.9" stroke="#CBCBCB" stroke-width="1"/>
<line x1="364.7" x2="364.7" y1="193.6" y2="316.9" stroke="#CBCBCB" stroke-width="1"/>
<line x1="386.2" x2="386.2" y1="193.6" y2="316.9" stroke="#CBCBCB" stroke-width="1"/>
<line x1="407.7" x2="407.7" y1="193.6" y2="316.9" stroke="#CBCBCB" stroke-width="1"/>
<line x1="343.2" x2="343.2" y1="246.2" y2="247.65" stroke="#FA5F00" stroke-width="0.8"/>
<rect x="335.14" y="247.65" width="16.13" height="12.35" fill="#FA5F00" fill-opacity="0.5" stroke="#FA5F00" stroke-width="0.8"/>
<line x1="335.14" x2="351.26" y1="248.3" y2="248.3" stroke="#FA5F00" stroke-width="1.5"/>
<circle cx="335.8" cy="247.65" r="1.6" fill="#FA5F00"/>
<circle cx="342.2" cy="246.2" r="1.6" fill="#FA5F00"/>
<circle cx="351.9" cy="249.9" r="1.6" fill="#FA5F00"/>
<circle cx="346.5" cy="290.4" r="1.6" fill="#FA5F00"/>
<line x1="364.7" x2="364.7" y1="228.5" y2="240.2" stroke="#FBC919" stroke-width="0.8"/>
<rect x="356.64" y="240.2" width="16.13" height="13.1" fill="#FBC919" fill-opacity="0.5" stroke="#FBC919" stroke-width="0.8"/>
<line x1="356.64" x2="372.76" y1="241.8" y2="241.8" stroke="#FBC919" stroke-width="1.5"/>
<circle cx="364.5" cy="228.5" r="1.6" fill="#FBC919"/>
<circle cx="359" cy="240.2" r="1.6" fill="#FBC919"/>
<circle cx="358.4" cy="253.9" r="1.6" fill="#FBC919"/>
<circle cx="356.9" cy="312.4" r="1.6" fill="#FBC919"/>
<line x1="386.2" x2="386.2" y1="213.6" y2="232.1" stroke="#929CFF" stroke-width="0.8"/>
<line x1="386.2" x2="386.2" y1="261.4" y2="285.6" stroke="#929CFF" stroke-width="0.8"/>
<rect x="378.14" y="232.1" width="16.13" height="29.3" fill="#929CFF" fill-opacity="0.5" stroke="#929CFF" stroke-width="0.8"/>
<line x1="378.14" x2="394.26" y1="245.8" y2="245.8" stroke="#929CFF" stroke-width="1.5"/>
<circle cx="380.7" cy="213.6" r="1.6" fill="#929CFF"/>
<circle cx="388.1" cy="238.2" r="1.6" fill="#929CFF"/>
<circle cx="379.6" cy="253.7" r="1.6" fill="#929CFF"/>
<circle cx="387.3" cy="285.6" r="1.6" fill="#929CFF"/>
<line x1="407.7" x2="407.7" y1="278.6" y2="285" stroke="#5FBDFF" stroke-width="0.8"/>
<line x1="407.7" x2="407.7" y1="302.5" y2="311.9" stroke="#5FBDFF" stroke-width="0.8"/>
<rect x="399.64" y="285" width="16.13" height="17.5" fill="#5FBDFF" fill-opacity="0.5" stroke="#5FBDFF" stroke-width="0.8"/>
<line x1="399.64" x2="415.76" y1="292.8" y2="292.8" stroke="#5FBDFF" stroke-width="1.5"/>
<circle cx="413.5" cy="240.2" r="1.6" fill="#5FBDFF"/>
<circle cx="405.5" cy="278.6" r="1.6" fill="#5FBDFF"/>
<circle cx="399.7" cy="286.8" r="1.6" fill="#5FBDFF"/>
<circle cx="399.2" cy="288.2" r="1.6" fill="#5FBDFF"/>
<circle cx="410.5" cy="297.2" r="1.6" fill="#5FBDFF"/>
<circle cx="412.7" cy="301.1" r="1.6" fill="#5FBDFF"/>
<circle cx="403.7" cy="306" r="1.6" fill="#5FBDFF"/>
<circle cx="401.5" cy="311.9" r="1.6" fill="#5FBDFF"/>
<rect x="358.55" y="194.1" width="33.8" height="9.4" fill="#fff"/>
<text x="375.45" y="201.3" font-family='"Liberation Sans", sans-serif' font-size="7.2" text-anchor="middle" fill="#1a1a1a" stroke="#1a1a1a" stroke-width="0.1">p = 0.13</text>
<rect x="330.3" y="193.6" width="90.3" height="123.3" fill="none" stroke="#A0A0A0" stroke-width="0.8"/>
<rect x="330.3" y="181.4" width="90.3" height="12.2" fill="#D9D9D9" stroke="#808080" stroke-width="0.9"/>
<text transform="translate(375.45,190.1) scale(1,1.2)" font-family='"Liberation Serif", serif' font-size="7.05" text-anchor="middle" fill="#1a1a1a" stroke="#1a1a1a" stroke-width="0.06">Pielou_e</text>
<line x1="328.6" x2="330.3" y1="308" y2="308" stroke="#333" stroke-width="0.8"/>
<text transform="translate(327.1,308) rotate(-90) scale(1,1.15)" font-family='"Liberation Serif", serif' font-size="7.0" text-anchor="middle" fill="#404040" stroke="#404040" stroke-width="0.03">0.2</text>
<line x1="328.6" x2="330.3" y1="279.47" y2="279.47" stroke="#333" stroke-width="0.8"/>
<text transform="translate(327.1,279.47) rotate(-90) scale(1,1.15)" font-family='"Liberation Serif", serif' font-size="7.0" text-anchor="middle" fill="#404040" stroke="#404040" stroke-width="0.03">0.3</text>
<line x1="328.6" x2="330.3" y1="250.93" y2="250.93" stroke="#333" stroke-width="0.8"/>
<text transform="translate(327.1,250.93) rotate(-90) scale(1,1.15)" font-family='"Liberation Serif", serif' font-size="7.0" text-anchor="middle" fill="#404040" stroke="#404040" stroke-width="0.03">0.4</text>
<line x1="328.6" x2="330.3" y1="222.4" y2="222.4" stroke="#333" stroke-width="0.8"/>
<text transform="translate(327.1,222.4) rotate(-90) scale(1,1.15)" font-family='"Liberation Serif", serif' font-size="7.0" text-anchor="middle" fill="#404040" stroke="#404040" stroke-width="0.03">0.5</text>
<line x1="328.6" x2="330.3" y1="193.87" y2="193.87" stroke="#333" stroke-width="0.8"/>
<text transform="translate(327.1,193.87) rotate(-90) scale(1,1.15)" font-family='"Liberation Serif", serif' font-size="7.0" text-anchor="middle" fill="#404040" stroke="#404040" stroke-width="0.03">0.6</text>
<line x1="343.2" x2="343.2" y1="316.9" y2="318.6" stroke="#333" stroke-width="0.8"/>
<text transform="translate(346.1,320.5) rotate(-90) scale(1,1.05)" font-family='"Liberation Serif", serif' font-size="7.1" text-anchor="end" fill="#333" stroke="#333" stroke-width="0.12">A</text>
<line x1="364.7" x2="364.7" y1="316.9" y2="318.6" stroke="#333" stroke-width="0.8"/>
<text transform="translate(367.6,320.5) rotate(-90) scale(1,1.05)" font-family='"Liberation Serif", serif' font-size="7.1" text-anchor="end" fill="#333" stroke="#333" stroke-width="0.12">B</text>
<line x1="386.2" x2="386.2" y1="316.9" y2="318.6" stroke="#333" stroke-width="0.8"/>
<text transform="translate(389.1,320.5) rotate(-90) scale(1,1.05)" font-family='"Liberation Serif", serif' font-size="7.1" text-anchor="end" fill="#333" stroke="#333" stroke-width="0.12">C</text>
<line x1="407.7" x2="407.7" y1="316.9" y2="318.6" stroke="#333" stroke-width="0.8"/>
<text transform="translate(410.6,320.5) rotate(-90) scale(1,1.05)" font-family='"Liberation Serif", serif' font-size="7.1" text-anchor="end" fill="#333" stroke="#333" stroke-width="0.12">D</text>
<rect x="434.9" y="193.6" width="89.9" height="123.3" fill="#fff"/>
<line x1="434.9" x2="524.8" y1="303.7" y2="303.7" stroke="#E8E8E8" stroke-width="0.9"/>
<line x1="434.9" x2="524.8" y1="263.1" y2="263.1" stroke="#E8E8E8" stroke-width="0.9"/>
<line x1="434.9" x2="524.8" y1="222.5" y2="222.5" stroke="#E8E8E8" stroke-width="0.9"/>
<line x1="434.9" x2="524.8" y1="283.4" y2="283.4" stroke="#CBCBCB" stroke-width="1"/>
<line x1="434.9" x2="524.8" y1="242.8" y2="242.8" stroke="#CBCBCB" stroke-width="1"/>
<line x1="434.9" x2="524.8" y1="202.2" y2="202.2" stroke="#CBCBCB" stroke-width="1"/>
<line x1="447.74" x2="447.74" y1="193.6" y2="316.9" stroke="#CBCBCB" stroke-width="1"/>
<line x1="469.15" x2="469.15" y1="193.6" y2="316.9" stroke="#CBCBCB" stroke-width="1"/>
<line x1="490.55" x2="490.55" y1="193.6" y2="316.9" stroke="#CBCBCB" stroke-width="1"/>
<line x1="511.96" x2="511.96" y1="193.6" y2="316.9" stroke="#CBCBCB" stroke-width="1"/>
<line x1="447.74" x2="447.74" y1="236.5" y2="243" stroke="#FA5F00" stroke-width="0.8"/>
<line x1="447.74" x2="447.74" y1="259.6" y2="283.8" stroke="#FA5F00" stroke-width="0.8"/>
<rect x="439.72" y="243" width="16.05" height="16.6" fill="#FA5F00" fill-opacity="0.5" stroke="#FA5F00" stroke-width="0.8"/>
<line x1="439.72" x2="455.77" y1="248.1" y2="248.1" stroke="#FA5F00" stroke-width="1.5"/>
<circle cx="454.9" cy="236.1" r="1.6" fill="#FA5F00"/>
<circle cx="454.9" cy="244.6" r="1.6" fill="#FA5F00"/>
<circle cx="454.9" cy="251.1" r="1.6" fill="#FA5F00"/>
<circle cx="441.1" cy="284.5" r="1.6" fill="#FA5F00"/>
<line x1="469.15" x2="469.15" y1="213.9" y2="229.4" stroke="#FBC919" stroke-width="0.8"/>
<rect x="461.12" y="229.4" width="16.05" height="22.1" fill="#FBC919" fill-opacity="0.5" stroke="#FBC919" stroke-width="0.8"/>
<line x1="461.12" x2="477.17" y1="234.5" y2="234.5" stroke="#FBC919" stroke-width="1.5"/>
<circle cx="465.4" cy="213.9" r="1.6" fill="#FBC919"/>
<circle cx="461.4" cy="229.4" r="1.6" fill="#FBC919"/>
<circle cx="470.9" cy="234.9" r="1.6" fill="#FBC919"/>
<circle cx="464.1" cy="251.5" r="1.6" fill="#FBC919"/>
<circle cx="477.3" cy="311" r="1.6" fill="#FBC919"/>
<line x1="490.55" x2="490.55" y1="213.3" y2="229" stroke="#929CFF" stroke-width="0.8"/>
<line x1="490.55" x2="490.55" y1="252" y2="275.7" stroke="#929CFF" stroke-width="0.8"/>
<rect x="482.53" y="229" width="16.05" height="23" fill="#929CFF" fill-opacity="0.5" stroke="#929CFF" stroke-width="0.8"/>
<line x1="482.53" x2="498.58" y1="238.9" y2="238.9" stroke="#929CFF" stroke-width="1.5"/>
<circle cx="484" cy="213.3" r="1.6" fill="#929CFF"/>
<circle cx="496.7" cy="234.5" r="1.6" fill="#929CFF"/>
<circle cx="493.7" cy="243.6" r="1.6" fill="#929CFF"/>
<circle cx="483" cy="276.2" r="1.6" fill="#929CFF"/>
<line x1="511.96" x2="511.96" y1="261.9" y2="275.3" stroke="#5FBDFF" stroke-width="0.8"/>
<line x1="511.96" x2="511.96" y1="300.4" y2="312.6" stroke="#5FBDFF" stroke-width="0.8"/>
<rect x="503.93" y="275.3" width="16.05" height="25.1" fill="#5FBDFF" fill-opacity="0.5" stroke="#5FBDFF" stroke-width="0.8"/>
<line x1="503.93" x2="519.98" y1="296" y2="296" stroke="#5FBDFF" stroke-width="1.5"/>
<circle cx="517.9" cy="223" r="1.6" fill="#5FBDFF"/>
<circle cx="517.6" cy="261.4" r="1.6" fill="#5FBDFF"/>
<circle cx="512.6" cy="280.4" r="1.6" fill="#5FBDFF"/>
<circle cx="507.5" cy="295.4" r="1.6" fill="#5FBDFF"/>
<circle cx="517.2" cy="296.5" r="1.6" fill="#5FBDFF"/>
<circle cx="509.6" cy="300.4" r="1.6" fill="#5FBDFF"/>
<circle cx="510.25" cy="312.6" r="1.6" fill="#5FBDFF"/>
<rect x="462.95" y="194.1" width="33.8" height="9.7" fill="#fff"/>
<text x="479.85" y="201.6" font-family='"Liberation Sans", sans-serif' font-size="7.2" text-anchor="middle" fill="#1a1a1a" stroke="#1a1a1a" stroke-width="0.1">p = 0.11</text>
<rect x="434.9" y="193.6" width="89.9" height="123.3" fill="none" stroke="#A0A0A0" stroke-width="0.8"/>
<rect x="434.9" y="181.4" width="89.9" height="12.2" fill="#D9D9D9" stroke="#808080" stroke-width="0.9"/>
<text transform="translate(479.85,190.1) scale(1,1.2)" font-family='"Liberation Serif", serif' font-size="7.05" text-anchor="middle" fill="#1a1a1a" stroke="#1a1a1a" stroke-width="0.06">Shannon</text>
<line x1="433.2" x2="434.9" y1="283.4" y2="283.4" stroke="#333" stroke-width="0.8"/>
<text transform="translate(431.7,283.4) rotate(-90) scale(1,1.15)" font-family='"Liberation Serif", serif' font-size="7.0" text-anchor="middle" fill="#404040" stroke="#404040" stroke-width="0.03">2</text>
<line x1="433.2" x2="434.9" y1="242.8" y2="242.8" stroke="#333" stroke-width="0.8"/>
<text transform="translate(431.7,242.8) rotate(-90) scale(1,1.15)" font-family='"Liberation Serif", serif' font-size="7.0" text-anchor="middle" fill="#404040" stroke="#404040" stroke-width="0.03">3</text>
<line x1="433.2" x2="434.9" y1="202.2" y2="202.2" stroke="#333" stroke-width="0.8"/>
<text transform="translate(431.7,202.2) rotate(-90) scale(1,1.15)" font-family='"Liberation Serif", serif' font-size="7.0" text-anchor="middle" fill="#404040" stroke="#404040" stroke-width="0.03">4</text>
<line x1="447.74" x2="447.74" y1="316.9" y2="318.6" stroke="#333" stroke-width="0.8"/>
<text transform="translate(450.64,320.5) rotate(-90) scale(1,1.05)" font-family='"Liberation Serif", serif' font-size="7.1" text-anchor="end" fill="#333" stroke="#333" stroke-width="0.12">A</text>
<line x1="469.15" x2="469.15" y1="316.9" y2="318.6" stroke="#333" stroke-width="0.8"/>
<text transform="translate(472.05,320.5) rotate(-90) scale(1,1.05)" font-family='"Liberation Serif", serif' font-size="7.1" text-anchor="end" fill="#333" stroke="#333" stroke-width="0.12">B</text>
<line x1="490.55" x2="490.55" y1="316.9" y2="318.6" stroke="#333" stroke-width="0.8"/>
<text transform="translate(493.45,320.5) rotate(-90) scale(1,1.05)" font-family='"Liberation Serif", serif' font-size="7.1" text-anchor="end" fill="#333" stroke="#333" stroke-width="0.12">C</text>
<line x1="511.96" x2="511.96" y1="316.9" y2="318.6" stroke="#333" stroke-width="0.8"/>
<text transform="translate(514.86,320.5) rotate(-90) scale(1,1.05)" font-family='"Liberation Serif", serif' font-size="7.1" text-anchor="end" fill="#333" stroke="#333" stroke-width="0.12">D</text>
<rect x="538.9" y="193.6" width="89.7" height="123.3" fill="#fff"/>
<line x1="538.9" x2="628.6" y1="282.73" y2="282.73" stroke="#E8E8E8" stroke-width="0.9"/>
<line x1="538.9" x2="628.6" y1="243.57" y2="243.57" stroke="#E8E8E8" stroke-width="0.9"/>
<line x1="538.9" x2="628.6" y1="204.43" y2="204.43" stroke="#E8E8E8" stroke-width="0.9"/>
<line x1="538.9" x2="628.6" y1="302.3" y2="302.3" stroke="#CBCBCB" stroke-width="1"/>
<line x1="538.9" x2="628.6" y1="263.15" y2="263.15" stroke="#CBCBCB" stroke-width="1"/>
<line x1="538.9" x2="628.6" y1="224" y2="224" stroke="#CBCBCB" stroke-width="1"/>
<line x1="551.71" x2="551.71" y1="193.6" y2="316.9" stroke="#CBCBCB" stroke-width="1"/>
<line x1="573.07" x2="573.07" y1="193.6" y2="316.9" stroke="#CBCBCB" stroke-width="1"/>
<line x1="594.43" x2="594.43" y1="193.6" y2="316.9" stroke="#CBCBCB" stroke-width="1"/>
<line x1="615.79" x2="615.79" y1="193.6" y2="316.9" stroke="#CBCBCB" stroke-width="1"/>
<line x1="551.71" x2="551.71" y1="265.4" y2="268.1" stroke="#FA5F00" stroke-width="0.8"/>
<line x1="551.71" x2="551.71" y1="286.1" y2="298.8" stroke="#FA5F00" stroke-width="0.8"/>
<rect x="543.71" y="268.1" width="16.02" height="18" fill="#FA5F00" fill-opacity="0.5" stroke="#FA5F00" stroke-width="0.8"/>
<line x1="543.71" x2="559.72" y1="275" y2="275" stroke="#FA5F00" stroke-width="1.5"/>
<circle cx="551.3" cy="265.4" r="1.6" fill="#FA5F00"/>
<circle cx="545.1" cy="269.5" r="1.6" fill="#FA5F00"/>
<circle cx="550.1" cy="281" r="1.6" fill="#FA5F00"/>
<circle cx="558.9" cy="299.3" r="1.6" fill="#FA5F00"/>
<line x1="573.07" x2="573.07" y1="258.5" y2="263.1" stroke="#FBC919" stroke-width="0.8"/>
<rect x="565.06" y="263.1" width="16.02" height="24.2" fill="#FBC919" fill-opacity="0.5" stroke="#FBC919" stroke-width="0.8"/>
<line x1="565.06" x2="581.08" y1="279.7" y2="279.7" stroke="#FBC919" stroke-width="1.5"/>
<circle cx="571.6" cy="258.5" r="1.6" fill="#FBC919"/>
<circle cx="580.8" cy="263.1" r="1.6" fill="#FBC919"/>
<circle cx="575" cy="280.4" r="1.6" fill="#FBC919"/>
<circle cx="569.3" cy="287.3" r="1.6" fill="#FBC919"/>
<circle cx="575" cy="286.8" r="1.6" fill="#FBC919"/>
<line x1="594.43" x2="594.43" y1="254.5" y2="263.1" stroke="#929CFF" stroke-width="0.8"/>
<line x1="594.43" x2="594.43" y1="286.1" y2="292.6" stroke="#929CFF" stroke-width="0.8"/>
<rect x="586.42" y="263.1" width="16.02" height="23" fill="#929CFF" fill-opacity="0.5" stroke="#929CFF" stroke-width="0.8"/>
<line x1="586.42" x2="602.44" y1="275" y2="275" stroke="#929CFF" stroke-width="1.5"/>
<circle cx="597.6" cy="254.5" r="1.6" fill="#929CFF"/>
<circle cx="586.1" cy="265.8" r="1.6" fill="#929CFF"/>
<circle cx="597.6" cy="283.8" r="1.6" fill="#929CFF"/>
<circle cx="598.1" cy="292.6" r="1.6" fill="#929CFF"/>
<line x1="615.79" x2="615.79" y1="213.3" y2="255.7" stroke="#5FBDFF" stroke-width="0.8"/>
<line x1="615.79" x2="615.79" y1="291.2" y2="312.6" stroke="#5FBDFF" stroke-width="0.8"/>
<rect x="607.78" y="255.7" width="16.02" height="35.5" fill="#5FBDFF" fill-opacity="0.5" stroke="#5FBDFF" stroke-width="0.8"/>
<line x1="607.78" x2="623.79" y1="275" y2="275" stroke="#5FBDFF" stroke-width="1.5"/>
<circle cx="618.9" cy="213.3" r="1.6" fill="#5FBDFF"/>
<circle cx="610.4" cy="244.2" r="1.6" fill="#5FBDFF"/>
<circle cx="609.6" cy="259.6" r="1.6" fill="#5FBDFF"/>
<circle cx="622.3" cy="263.1" r="1.6" fill="#5FBDFF"/>
<circle cx="617.7" cy="286.1" r="1.6" fill="#5FBDFF"/>
<circle cx="609.6" cy="290.7" r="1.6" fill="#5FBDFF"/>
<circle cx="623.5" cy="294.2" r="1.6" fill="#5FBDFF"/>
<circle cx="614.9" cy="312.6" r="1.6" fill="#5FBDFF"/>
<rect x="566.85" y="194.1" width="33.8" height="9.7" fill="#fff"/>
<text x="583.75" y="201.6" font-family='"Liberation Sans", sans-serif' font-size="7.2" text-anchor="middle" fill="#1a1a1a" stroke="#1a1a1a" stroke-width="0.1">p = 0.96</text>
<rect x="538.9" y="193.6" width="89.7" height="123.3" fill="none" stroke="#A0A0A0" stroke-width="0.8"/>
<rect x="538.9" y="181.4" width="89.7" height="12.2" fill="#D9D9D9" stroke="#808080" stroke-width="0.9"/>
<text transform="translate(583.75,190.1) scale(1,1.2)" font-family='"Liberation Serif", serif' font-size="7.05" text-anchor="middle" fill="#1a1a1a" stroke="#1a1a1a" stroke-width="0.06">Observed_species</text>
<line x1="537.2" x2="538.9" y1="302.3" y2="302.3" stroke="#333" stroke-width="0.8"/>
<text transform="translate(535.7,302.3) rotate(-90) scale(1,1.15)" font-family='"Liberation Serif", serif' font-size="7.0" text-anchor="middle" fill="#404040" stroke="#404040" stroke-width="0.03">100</text>
<line x1="537.2" x2="538.9" y1="263.15" y2="263.15" stroke="#333" stroke-width="0.8"/>
<text transform="translate(535.7,263.15) rotate(-90) scale(1,1.15)" font-family='"Liberation Serif", serif' font-size="7.0" text-anchor="middle" fill="#404040" stroke="#404040" stroke-width="0.03">200</text>
<line x1="537.2" x2="538.9" y1="224" y2="224" stroke="#333" stroke-width="0.8"/>
<text transform="translate(535.7,224) rotate(-90) scale(1,1.15)" font-family='"Liberation Serif", serif' font-size="7.0" text-anchor="middle" fill="#404040" stroke="#404040" stroke-width="0.03">300</text>
<line x1="551.71" x2="551.71" y1="316.9" y2="318.6" stroke="#333" stroke-width="0.8"/>
<text transform="translate(554.61,320.5) rotate(-90) scale(1,1.05)" font-family='"Liberation Serif", serif' font-size="7.1" text-anchor="end" fill="#333" stroke="#333" stroke-width="0.12">A</text>
<line x1="573.07" x2="573.07" y1="316.9" y2="318.6" stroke="#333" stroke-width="0.8"/>
<text transform="translate(575.97,320.5) rotate(-90) scale(1,1.05)" font-family='"Liberation Serif", serif' font-size="7.1" text-anchor="end" fill="#333" stroke="#333" stroke-width="0.12">B</text>
<line x1="594.43" x2="594.43" y1="316.9" y2="318.6" stroke="#333" stroke-width="0.8"/>
<text transform="translate(597.33,320.5) rotate(-90) scale(1,1.05)" font-family='"Liberation Serif", serif' font-size="7.1" text-anchor="end" fill="#333" stroke="#333" stroke-width="0.12">C</text>
<line x1="615.79" x2="615.79" y1="316.9" y2="318.6" stroke="#333" stroke-width="0.8"/>
<text transform="translate(618.69,320.5) rotate(-90) scale(1,1.05)" font-family='"Liberation Serif", serif' font-size="7.1" text-anchor="end" fill="#333" stroke="#333" stroke-width="0.12">D</text>
<text transform="translate(155.15,17.6) scale(1,1.2)" font-family='"Liberation Serif", serif' font-size="6.9" text-anchor="middle" fill="#111" stroke="#111" stroke-width="0.1" textLength="37.2" lengthAdjust="spacingAndGlyphs">April samples</text>
<text transform="translate(485.6,17.6) scale(1,1.2)" font-family='"Liberation Serif", serif' font-size="7" text-anchor="middle" fill="#111" stroke="#111" stroke-width="0.1" textLength="54.6" lengthAdjust="spacingAndGlyphs">September samples</text>
<text x="157.2" y="340" font-family='"Liberation Serif", serif' font-size="16" text-anchor="middle" fill="#111" stroke="#111" stroke-width="0.45">(a)</text>
<text x="480.8" y="340" font-family='"Liberation Serif", serif' font-size="16" text-anchor="middle" fill="#111" stroke="#111" stroke-width="0.45">(b)</text>
<text transform="translate(652.8,147.8) scale(1,1.2)" font-family='"Liberation Serif", serif' font-size="7" fill="#111" stroke="#111" stroke-width="0.1" textLength="20.6" lengthAdjust="spacingAndGlyphs">Groups</text>
<line x1="658.7" x2="658.7" y1="153.3" y2="155.2" stroke="#FA5F00" stroke-width="0.8"/>
<line x1="658.7" x2="658.7" y1="163.8" y2="165.9" stroke="#FA5F00" stroke-width="0.8"/>
<rect x="652.4" y="155.2" width="12.6" height="8.6" fill="#FA5F00" fill-opacity="0.5" stroke="#FA5F00" stroke-width="0.8"/>
<line x1="652.4" x2="665" y1="157.5" y2="157.5" stroke="#FA5F00" stroke-opacity="0.3" stroke-width="0.6"/>
<line x1="652.4" x2="665" y1="161.5" y2="161.5" stroke="#FA5F00" stroke-opacity="0.3" stroke-width="0.6"/>
<line x1="652.4" x2="665" y1="159.5" y2="159.5" stroke="#FA5F00" stroke-width="1.2"/>
<circle cx="658.7" cy="159.5" r="1.6" fill="#FA5F00"/>
<text transform="translate(673.2,162.6) scale(1,1.25)" font-family='"Liberation Serif", serif' font-size="7" text-anchor="middle" fill="#111" stroke="#111" stroke-width="0.12">A</text>
<line x1="658.7" x2="658.7" y1="169.6" y2="171.5" stroke="#FBC919" stroke-width="0.8"/>
<line x1="658.7" x2="658.7" y1="180.1" y2="182.2" stroke="#FBC919" stroke-width="0.8"/>
<rect x="652.4" y="171.5" width="12.6" height="8.6" fill="#FBC919" fill-opacity="0.5" stroke="#FBC919" stroke-width="0.8"/>
<line x1="652.4" x2="665" y1="173.8" y2="173.8" stroke="#FBC919" stroke-opacity="0.3" stroke-width="0.6"/>
<line x1="652.4" x2="665" y1="177.8" y2="177.8" stroke="#FBC919" stroke-opacity="0.3" stroke-width="0.6"/>
<line x1="652.4" x2="665" y1="175.8" y2="175.8" stroke="#FBC919" stroke-width="1.2"/>
<circle cx="658.7" cy="175.8" r="1.6" fill="#FBC919"/>
<text transform="translate(673.2,178.9) scale(1,1.25)" font-family='"Liberation Serif", serif' font-size="7" text-anchor="middle" fill="#111" stroke="#111" stroke-width="0.12">B</text>
<line x1="658.7" x2="658.7" y1="185.9" y2="187.8" stroke="#929CFF" stroke-width="0.8"/>
<line x1="658.7" x2="658.7" y1="196.4" y2="198.5" stroke="#929CFF" stroke-width="0.8"/>
<rect x="652.4" y="187.8" width="12.6" height="8.6" fill="#929CFF" fill-opacity="0.5" stroke="#929CFF" stroke-width="0.8"/>
<line x1="652.4" x2="665" y1="190.1" y2="190.1" stroke="#929CFF" stroke-opacity="0.3" stroke-width="0.6"/>
<line x1="652.4" x2="665" y1="194.1" y2="194.1" stroke="#929CFF" stroke-opacity="0.3" stroke-width="0.6"/>
<line x1="652.4" x2="665" y1="192.1" y2="192.1" stroke="#929CFF" stroke-width="1.2"/>
<circle cx="658.7" cy="192.1" r="1.6" fill="#929CFF"/>
<text transform="translate(673.2,195.2) scale(1,1.25)" font-family='"Liberation Serif", serif' font-size="7" text-anchor="middle" fill="#111" stroke="#111" stroke-width="0.12">C</text>
<line x1="658.7" x2="658.7" y1="202.2" y2="204.1" stroke="#5FBDFF" stroke-width="0.8"/>
<line x1="658.7" x2="658.7" y1="212.7" y2="214.8" stroke="#5FBDFF" stroke-width="0.8"/>
<rect x="652.4" y="204.1" width="12.6" height="8.6" fill="#5FBDFF" fill-opacity="0.5" stroke="#5FBDFF" stroke-width="0.8"/>
<line x1="652.4" x2="665" y1="206.4" y2="206.4" stroke="#5FBDFF" stroke-opacity="0.3" stroke-width="0.6"/>
<line x1="652.4" x2="665" y1="210.4" y2="210.4" stroke="#5FBDFF" stroke-opacity="0.3" stroke-width="0.6"/>
<line x1="652.4" x2="665" y1="208.4" y2="208.4" stroke="#5FBDFF" stroke-width="1.2"/>
<circle cx="658.7" cy="208.4" r="1.6" fill="#5FBDFF"/>
<text transform="translate(673.2,211.5) scale(1,1.25)" font-family='"Liberation Serif", serif' font-size="7" text-anchor="middle" fill="#111" stroke="#111" stroke-width="0.12">D</text>
</svg>
</body></html>
